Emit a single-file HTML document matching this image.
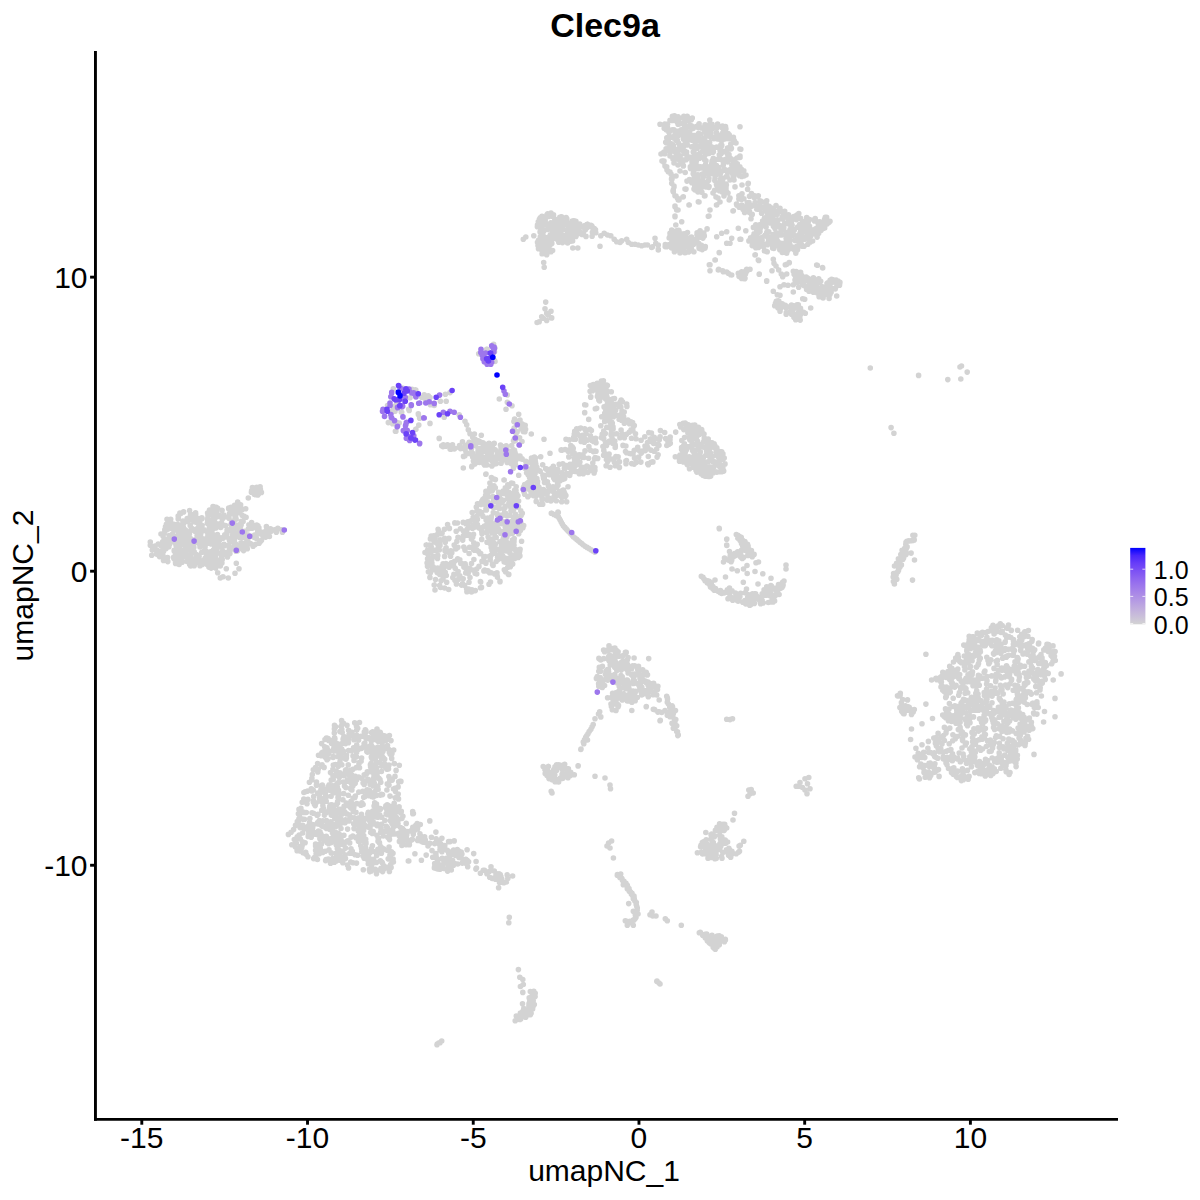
<!DOCTYPE html>
<html><head><meta charset="utf-8"><style>html,body{margin:0;padding:0;background:#fff}svg{display:block}</style></head>
<body><svg width="1200" height="1200" viewBox="0 0 1200 1200" font-family="Liberation Sans, Arial, sans-serif">
<rect width="1200" height="1200" fill="#fff"/>
<g fill="none" stroke-width="5.6" stroke-linecap="round">
<path d="M587.4 224.2h0M558.9 219.2h0M543.6 230.6h0M570.4 226.9h0M547.0 214.7h0M550.4 234.9h0M586.0 236.4h0M547.4 238.0h0M545.2 220.9h0M558.8 242.2h0M583.4 232.8h0M539.7 239.7h0M556.2 239.0h0M548.4 246.5h0M540.8 217.8h0M546.1 223.7h0M569.4 234.7h0M566.8 218.8h0M541.8 234.0h0M595.5 229.8h0M551.0 251.7h0M537.5 225.7h0M560.5 218.5h0M551.4 229.6h0M579.1 225.4h0M540.1 231.9h0M548.0 239.5h0M548.5 216.4h0M591.7 225.7h0M554.1 235.6h0M562.5 227.3h0M568.1 237.3h0M538.0 245.4h0M578.7 229.1h0M563.9 222.6h0M581.9 232.8h0M560.6 218.6h0M540.6 224.3h0M547.7 213.9h0M542.9 234.4h0M585.3 226.2h0M542.1 217.1h0M548.7 237.1h0M541.6 235.1h0M570.2 241.2h0M561.5 234.9h0M569.1 237.9h0M543.7 236.9h0M546.7 254.7h0M555.1 220.3h0M541.9 233.7h0M539.5 220.5h0M549.7 245.4h0M546.0 237.9h0M592.1 236.3h0M545.8 244.8h0M548.0 247.3h0M543.5 222.6h0M549.9 227.6h0M571.0 240.9h0M558.8 229.0h0M578.6 230.0h0M542.8 221.8h0M554.8 236.9h0M546.5 244.6h0M571.5 240.2h0M548.4 239.7h0M549.3 236.7h0M551.5 214.4h0M584.9 225.6h0M543.9 239.0h0M555.0 223.6h0M549.0 228.7h0M578.5 229.1h0M569.4 241.3h0M552.5 224.9h0M561.6 228.6h0M541.6 228.5h0M550.2 239.5h0M560.0 224.8h0M575.0 225.0h0M538.3 221.7h0M573.4 231.7h0M557.5 228.6h0M544.4 246.5h0M567.6 233.4h0M590.9 225.2h0M541.9 218.8h0M538.7 243.6h0M539.8 241.3h0M572.6 241.0h0M543.4 230.8h0M575.9 221.2h0M542.0 242.5h0M577.8 233.8h0M544.6 219.4h0M552.6 250.5h0M559.5 237.5h0M557.2 220.1h0M548.1 225.7h0M540.3 217.7h0M565.4 236.2h0M551.8 243.4h0M568.2 227.5h0M560.9 219.6h0M542.1 253.8h0M585.6 229.6h0M552.0 216.3h0M562.5 223.2h0M552.3 227.7h0M555.2 223.9h0M574.2 231.4h0M565.5 237.9h0M557.7 234.1h0M544.1 240.5h0M587.6 224.2h0M573.9 220.7h0M559.8 217.4h0M556.3 232.3h0M561.5 216.8h0M578.7 227.0h0M594.3 228.5h0M595.8 232.7h0M587.3 227.5h0M548.5 214.9h0M561.0 225.4h0M570.7 240.8h0M550.8 222.7h0M547.6 229.4h0M562.1 225.7h0M560.2 223.0h0M561.3 218.8h0M592.5 227.4h0M564.7 235.9h0M568.2 230.6h0M546.2 217.3h0M537.5 225.1h0M561.7 236.0h0M552.3 225.3h0M540.8 247.2h0M552.6 225.2h0M584.8 226.5h0M579.1 226.1h0M542.2 250.8h0M562.5 242.6h0M551.0 226.8h0M537.4 226.8h0M578.5 230.8h0M544.8 237.8h0M537.5 242.2h0M548.4 251.3h0M555.7 226.2h0M572.3 221.0h0M574.2 225.3h0M542.0 216.4h0M543.5 243.8h0M556.4 230.6h0M576.7 226.6h0M559.9 230.3h0M575.9 236.4h0M567.5 236.9h0M552.4 233.1h0M551.0 213.0h0M568.2 236.7h0M541.6 225.2h0M572.6 236.4h0M548.4 243.0h0M544.4 230.0h0M592.4 232.3h0M546.1 252.6h0M558.2 220.7h0M569.7 240.4h0M555.4 222.2h0M542.6 222.1h0M544.2 218.8h0M571.3 230.0h0M539.4 219.4h0M567.6 243.0h0M576.7 229.0h0M556.3 231.6h0M555.0 219.4h0M540.3 236.8h0M541.8 228.8h0M553.5 214.9h0M559.3 230.7h0M572.0 226.4h0M540.1 225.6h0M550.8 222.8h0M578.8 228.7h0M560.0 233.8h0M543.0 245.4h0M541.1 245.9h0M551.3 240.6h0M564.9 222.5h0M548.8 215.9h0M593.2 230.1h0M563.6 224.8h0M551.1 250.9h0M541.5 249.8h0M553.1 222.9h0M544.4 248.5h0M576.0 222.4h0M541.3 222.3h0M569.2 225.3h0M553.9 225.9h0M545.8 250.4h0M583.0 227.1h0M551.4 237.8h0M563.5 240.1h0M566.1 217.6h0M554.8 219.1h0M554.4 224.4h0M543.7 230.9h0M582.1 234.4h0M573.2 225.3h0M579.7 224.0h0M544.1 224.6h0M561.2 228.4h0M539.3 243.0h0M563.2 229.7h0M538.5 248.7h0M538.5 240.4h0M555.4 230.2h0M567.8 222.7h0M523.3 239.2h0M525.8 237.0h0M533.8 235.8h0M600.0 246.2h0M543.7 262.5h0M544.2 267.2h0M572.8 248.0h0M577.8 248.0h0M600.8 235.8h0M604.2 233.3h0M607.5 235.0h0M610.8 235.8h0M614.2 239.2h0M616.7 241.7h0M620.0 242.5h0M621.7 240.8h0M626.7 239.2h0M628.3 242.5h0M631.7 244.2h0M635.0 244.2h0M638.3 245.0h0M641.7 245.8h0M645.0 245.0h0M647.5 245.0h0M651.7 247.5h0M655.0 238.3h0M655.8 243.3h0M658.3 249.2h0M658.3 245.0h0M660.0 124.2h0M664.2 128.3h0M662.5 153.3h0M663.3 161.7h0M666.7 166.7h0M668.3 171.7h0M671.7 178.3h0M673.3 190.0h0M675.0 195.8h0M678.3 200.0h0M683.3 196.7h0M685.8 189.2h0M689.2 205.0h0M675.0 206.7h0M676.7 210.0h0M675.0 216.7h0M675.8 225.0h0M681.7 221.7h0M671.7 230.0h0M670.0 233.3h0M687.5 232.5h0M713.3 158.2h0M715.3 168.0h0M729.0 154.5h0M708.8 187.5h0M682.5 130.4h0M722.9 178.9h0M684.5 159.8h0M708.1 125.0h0M704.5 159.1h0M725.9 128.9h0M707.2 127.5h0M683.5 146.4h0M681.5 134.7h0M686.5 154.4h0M674.4 116.6h0M698.3 168.7h0M706.3 173.8h0M711.7 163.8h0M711.2 149.8h0M712.0 128.8h0M719.9 146.6h0M717.5 134.7h0M726.0 176.7h0M729.4 147.6h0M726.3 191.1h0M687.0 181.1h0M714.6 190.2h0M704.6 159.7h0M678.6 143.2h0M672.2 145.7h0M702.9 142.5h0M691.3 119.8h0M690.2 125.2h0M708.9 147.3h0M671.3 143.9h0M729.2 158.1h0M668.6 148.9h0M716.1 147.2h0M734.9 166.9h0M713.1 174.0h0M724.5 159.8h0M693.2 182.5h0M686.0 130.6h0M699.0 158.2h0M696.1 158.5h0M692.0 161.7h0M672.3 129.8h0M678.9 159.6h0M685.4 142.7h0M676.1 131.0h0M727.5 149.7h0M686.5 143.3h0M687.4 135.2h0M668.3 140.6h0M730.8 144.1h0M674.2 136.4h0M697.3 154.9h0M676.8 156.4h0M736.0 172.6h0M709.2 173.6h0M666.5 143.0h0M687.1 144.9h0M699.5 158.2h0M675.5 136.3h0M691.8 182.7h0M678.6 148.9h0M694.0 155.7h0M678.1 116.9h0M710.6 150.5h0M685.2 172.5h0M703.6 141.1h0M677.1 121.9h0M720.1 158.9h0M693.8 171.5h0M705.8 187.0h0M682.7 150.5h0M702.3 142.9h0M708.9 178.4h0M721.6 135.8h0M698.5 133.5h0M705.6 130.3h0M666.8 137.9h0M688.2 138.8h0M741.7 176.4h0M698.3 140.7h0M679.4 133.5h0M727.7 162.0h0M665.7 142.3h0M670.0 120.3h0M724.5 169.3h0M722.4 181.8h0M684.7 151.0h0M707.5 146.0h0M700.1 153.0h0M669.0 132.4h0M731.4 148.3h0M710.1 129.8h0M701.5 181.0h0M687.0 158.8h0M664.8 124.1h0M687.1 156.1h0M680.4 123.5h0M668.9 143.4h0M687.2 116.3h0M722.4 128.0h0M709.8 120.1h0M700.5 180.8h0M675.8 151.6h0M695.6 140.5h0M676.1 140.4h0M733.7 160.7h0M734.1 160.4h0M719.3 159.1h0M677.9 153.7h0M689.7 132.0h0M707.5 135.9h0M691.5 137.6h0M729.1 156.2h0M702.2 174.1h0M738.2 172.5h0M733.7 163.4h0M707.9 181.2h0M698.7 183.0h0M724.1 129.2h0M719.9 137.0h0M667.6 124.0h0M680.1 158.1h0M698.1 127.1h0M720.9 138.2h0M699.3 139.5h0M717.4 139.0h0M739.8 166.7h0M694.5 180.9h0M724.9 139.0h0M696.8 185.0h0M681.7 164.0h0M684.3 153.4h0M706.4 145.6h0M670.0 136.6h0M737.3 163.7h0M700.7 146.3h0M711.0 167.9h0M720.1 138.6h0M672.4 116.2h0M692.1 140.3h0M709.6 142.4h0M694.6 148.2h0M725.0 170.1h0M717.5 167.7h0M728.6 136.3h0M734.2 140.5h0M686.1 159.8h0M713.4 151.7h0M733.0 175.6h0M705.8 186.3h0M694.7 145.3h0M720.3 139.6h0M730.8 169.3h0M699.3 157.0h0M668.2 149.5h0M697.9 146.2h0M727.1 176.5h0M664.8 153.7h0M676.6 159.0h0M694.7 186.1h0M665.5 151.6h0M684.7 122.1h0M734.2 166.9h0M690.3 157.2h0M728.5 137.6h0M734.5 160.7h0M698.0 177.8h0M705.2 170.0h0M715.0 137.0h0M724.0 161.0h0M699.1 123.9h0M673.9 129.7h0M721.4 140.3h0M697.9 174.7h0M685.1 137.2h0M733.0 174.7h0M744.4 175.6h0M725.4 137.2h0M721.7 190.8h0M709.8 172.6h0M674.6 151.6h0M706.1 173.6h0M705.2 132.6h0M719.5 172.4h0M703.9 137.8h0M679.8 145.4h0M717.6 124.1h0M672.4 120.4h0M669.5 136.3h0M728.1 133.6h0M725.5 126.6h0M715.4 169.0h0M715.9 127.5h0M700.4 134.0h0M687.8 140.6h0M694.2 177.9h0M703.1 150.6h0M743.8 170.7h0M703.9 145.9h0M703.8 151.5h0M732.3 173.1h0M714.8 170.9h0M731.0 149.0h0M709.9 133.0h0M708.6 167.0h0M709.1 129.2h0M683.8 116.3h0M696.4 161.0h0M690.5 168.6h0M693.2 152.0h0M677.0 157.2h0M678.3 131.3h0M697.2 165.9h0M704.8 131.9h0M709.8 171.3h0M677.9 123.0h0M709.0 153.5h0M704.5 139.1h0M719.4 190.7h0M703.3 183.6h0M673.9 137.9h0M727.5 148.0h0M709.1 186.6h0M678.0 118.5h0M704.0 148.5h0M702.9 181.3h0M701.1 188.3h0M698.5 138.2h0M701.6 167.9h0M692.3 118.0h0M721.1 186.5h0M683.5 117.7h0M711.3 170.5h0M706.4 147.2h0M667.7 150.8h0M710.8 133.4h0M726.1 134.3h0M720.1 150.5h0M687.5 120.7h0M700.7 146.7h0M685.0 133.9h0M702.4 186.1h0M729.7 138.5h0M711.9 165.3h0M723.3 164.9h0M664.6 124.9h0M729.2 134.8h0M710.7 136.9h0M680.2 155.8h0M704.2 140.8h0M713.0 171.2h0M736.3 168.1h0M673.9 157.7h0M691.4 125.8h0M695.2 157.0h0M717.5 186.3h0M691.7 166.7h0M694.2 150.3h0M720.2 174.6h0M689.9 139.3h0M685.8 131.9h0M697.4 140.6h0M695.6 156.6h0M715.3 175.5h0M698.2 127.6h0M725.1 185.4h0M738.4 172.9h0M670.2 137.3h0M684.2 145.1h0M683.4 165.9h0M724.5 151.6h0M725.1 133.4h0M722.5 126.0h0M715.0 178.5h0M707.4 150.3h0M719.8 136.7h0M701.0 184.9h0M667.5 127.5h0M678.9 157.7h0M686.6 152.0h0M717.6 159.3h0M721.2 146.8h0M689.1 126.4h0M670.2 151.9h0M691.3 180.9h0M719.5 173.3h0M726.4 185.1h0M700.6 166.7h0M711.2 149.6h0M705.9 141.7h0M723.9 186.6h0M704.3 144.4h0M704.3 174.2h0M717.8 171.3h0M716.6 184.9h0M718.5 182.9h0M671.9 150.8h0M722.9 191.6h0M666.4 130.0h0M680.3 134.1h0M716.7 147.1h0M741.2 169.0h0M720.9 188.2h0M696.7 166.9h0M723.4 188.0h0M677.2 154.1h0M674.5 115.8h0M694.1 165.7h0M716.4 184.1h0M684.1 135.9h0M712.0 124.3h0M733.4 137.2h0M718.8 167.5h0M694.6 159.1h0M706.8 182.9h0M678.1 124.2h0M675.9 120.4h0M704.6 129.7h0M698.9 168.3h0M695.1 159.8h0M708.9 131.0h0M675.0 149.3h0M722.1 140.3h0M682.7 162.6h0M723.3 136.4h0M706.0 160.9h0M721.8 145.3h0M709.1 126.6h0M677.3 140.6h0M728.4 138.6h0M733.6 142.1h0M733.1 171.2h0M703.5 176.8h0M728.5 170.4h0M714.8 180.5h0M691.6 146.7h0M713.9 138.6h0M717.2 186.3h0M698.8 186.9h0M727.0 134.7h0M712.0 161.2h0M687.3 144.8h0M681.2 129.8h0M703.9 166.6h0M721.7 151.5h0M674.3 158.1h0M695.2 168.1h0M690.3 166.9h0M696.2 126.6h0M666.1 148.7h0M689.4 179.6h0M712.6 160.3h0M714.2 160.9h0M727.0 158.5h0M706.9 135.3h0M679.5 124.0h0M694.9 135.5h0M727.5 172.2h0M679.9 118.3h0M727.8 172.5h0M673.3 145.6h0M731.9 165.6h0M716.5 165.6h0M702.3 128.1h0M709.5 152.3h0M693.2 173.8h0M709.5 142.3h0M716.4 132.4h0M720.4 189.9h0M677.9 132.8h0M701.3 127.9h0M689.4 134.3h0M671.1 130.2h0M683.3 139.1h0M708.7 180.2h0M703.6 143.4h0M693.1 128.5h0M668.7 139.0h0M701.9 142.3h0M684.6 124.4h0M684.6 138.7h0M703.8 128.8h0M705.7 154.3h0M739.6 175.7h0M707.2 133.5h0M722.8 132.8h0M677.7 136.2h0M721.0 144.8h0M708.7 144.4h0M711.5 146.9h0M720.6 179.1h0M705.0 124.8h0M701.9 192.3h0M723.1 161.3h0M693.6 135.5h0M697.1 148.2h0M684.3 127.7h0M700.9 140.8h0M734.0 175.9h0M716.9 189.6h0M720.1 135.0h0M692.1 164.0h0M727.5 154.1h0M706.6 146.9h0M720.1 146.9h0M731.1 158.9h0M711.8 164.0h0M703.7 157.2h0M686.8 131.9h0M698.4 126.4h0M717.3 127.6h0M685.7 129.6h0M719.3 154.8h0M675.0 134.7h0M708.5 133.9h0M704.6 151.6h0M712.9 152.3h0M730.0 158.7h0M701.1 141.4h0M705.8 170.7h0M735.4 164.9h0M734.9 173.2h0M703.4 183.2h0M719.7 183.2h0M716.9 173.2h0M705.6 164.6h0M716.1 174.8h0M721.2 153.6h0M700.6 183.9h0M721.5 171.5h0M721.3 184.0h0M724.3 191.4h0M694.2 175.7h0M662.0 161.0h0M665.0 166.0h0M669.0 172.0h0M672.0 179.0h0M674.0 187.0h0M673.0 191.0h0M676.0 196.0h0M679.0 199.0h0M683.0 197.0h0M675.0 206.0h0M678.0 210.0h0M675.0 216.0h0M686.0 189.0h0M689.0 205.0h0M699.0 202.0h0M694.0 189.0h0M698.0 192.0h0M710.0 210.0h0M709.0 216.0h0M733.0 211.0h0M713.0 193.0h0M719.0 190.0h0M735.0 187.0h0M740.0 149.0h0M740.0 157.0h0M736.0 143.0h0M664.0 161.0h0M667.0 170.0h0M671.0 174.0h0M700.3 248.7h0M688.2 240.3h0M678.7 230.3h0M680.6 237.7h0M701.4 245.3h0M681.1 236.2h0M670.6 244.8h0M690.1 247.3h0M676.7 245.2h0M699.0 246.8h0M665.2 246.6h0M684.3 233.8h0M684.0 250.4h0M689.4 251.2h0M676.6 243.2h0M693.7 244.2h0M679.6 242.4h0M671.5 243.1h0M673.7 232.1h0M702.9 238.1h0M700.1 230.8h0M690.2 241.8h0M693.9 251.7h0M704.3 235.9h0M691.6 237.3h0M697.0 234.6h0M680.8 245.6h0M690.3 246.1h0M669.2 238.0h0M685.2 237.9h0M666.6 246.7h0M697.1 232.8h0M689.2 251.2h0M678.7 232.0h0M705.3 247.1h0M672.2 239.7h0M705.0 248.1h0M686.1 236.6h0M707.1 228.9h0M679.0 231.0h0M676.9 238.7h0M699.1 248.3h0M701.0 237.2h0M701.3 233.9h0M677.6 238.8h0M703.6 247.4h0M684.4 244.6h0M685.0 237.3h0M670.7 237.3h0M682.5 234.1h0M696.7 240.8h0M680.0 253.0h0M683.5 237.5h0M674.0 249.4h0M676.6 238.5h0M691.5 248.7h0M686.6 246.4h0M665.3 244.5h0M688.5 251.9h0M668.5 244.9h0M705.3 246.6h0M677.1 232.5h0M675.9 246.0h0M684.2 242.6h0M678.6 250.3h0M685.0 252.7h0M702.8 234.7h0M681.9 237.9h0M699.3 247.0h0M702.2 249.6h0M682.7 236.1h0M681.7 241.6h0M686.7 243.0h0M690.9 243.4h0M696.0 239.3h0M670.0 236.1h0M676.6 230.9h0M676.5 234.6h0M687.3 237.9h0M691.5 237.0h0M692.2 242.1h0M681.6 248.1h0M675.7 236.5h0M703.4 247.7h0M673.0 235.6h0M699.1 244.7h0M680.9 235.5h0M691.0 242.2h0M698.6 243.3h0M674.7 239.0h0M703.8 233.1h0M691.9 243.3h0M684.8 240.7h0M674.4 251.8h0M681.9 249.6h0M673.4 237.5h0M671.7 234.7h0M701.6 234.7h0M672.8 240.6h0M670.7 236.6h0M671.4 247.7h0M782.7 218.9h0M821.9 226.3h0M784.5 245.7h0M791.8 248.4h0M797.3 235.9h0M791.5 246.8h0M759.8 245.6h0M738.9 198.9h0M756.8 240.1h0M784.3 246.6h0M787.8 223.6h0M789.5 234.0h0M778.2 220.0h0M776.6 224.9h0M774.1 226.0h0M777.5 226.3h0M769.9 212.3h0M748.7 204.1h0M753.5 243.0h0M795.2 240.4h0M797.6 227.1h0M785.6 234.6h0M782.8 247.8h0M751.0 218.8h0M786.9 246.5h0M766.9 243.7h0M750.9 206.4h0M766.1 227.1h0M777.1 245.6h0M798.5 245.6h0M817.3 221.7h0M761.7 206.8h0M786.1 248.8h0M762.1 240.3h0M760.0 201.1h0M765.4 221.5h0M736.5 204.1h0M811.0 229.6h0M757.4 196.8h0M799.7 224.6h0M768.4 241.8h0M787.7 250.5h0M768.3 215.8h0M808.9 239.9h0M798.5 227.1h0M750.2 205.9h0M752.2 245.6h0M784.5 213.3h0M774.6 234.2h0M745.1 207.2h0M791.6 234.6h0M767.5 236.8h0M755.0 241.6h0M794.3 230.1h0M802.2 237.6h0M761.6 213.2h0M755.8 224.8h0M756.5 233.7h0M798.9 234.7h0M807.9 224.6h0M755.6 246.0h0M768.8 231.9h0M796.9 215.0h0M801.4 235.6h0M803.2 229.1h0M767.6 220.3h0M762.3 237.2h0M759.8 243.4h0M764.4 250.9h0M788.4 218.9h0M789.7 235.0h0M824.6 219.3h0M760.6 227.8h0M780.0 209.9h0M767.5 216.4h0M766.8 232.3h0M768.2 218.8h0M809.5 226.3h0M751.5 193.6h0M756.8 233.8h0M788.0 218.3h0M810.3 241.9h0M781.3 234.9h0M739.2 207.2h0M771.8 216.8h0M755.8 247.7h0M741.7 205.0h0M788.2 246.2h0M808.6 220.8h0M782.2 217.2h0M814.6 220.9h0M816.3 232.0h0M807.2 236.9h0M815.6 234.1h0M808.1 228.2h0M771.9 243.7h0M815.2 218.6h0M792.3 235.3h0M774.5 239.1h0M778.3 212.1h0M770.3 239.8h0M781.0 229.2h0M755.1 206.1h0M780.2 227.2h0M776.3 239.8h0M764.4 218.1h0M817.1 237.1h0M820.9 229.9h0M784.9 246.3h0M800.2 227.7h0M776.0 241.3h0M743.1 209.5h0M758.9 230.6h0M784.6 223.9h0M818.3 225.1h0M790.3 236.2h0M757.7 237.2h0M824.7 228.0h0M765.6 224.7h0M768.4 208.4h0M795.1 218.7h0M803.9 229.9h0M765.9 220.0h0M774.0 237.8h0M771.0 207.9h0M807.0 219.9h0M749.6 211.9h0M788.1 235.2h0M749.2 212.3h0M754.6 195.8h0M827.1 224.0h0M767.2 251.8h0M810.8 236.1h0M791.4 223.4h0M768.3 212.2h0M770.4 237.5h0M804.0 246.3h0M768.6 241.4h0M785.4 242.8h0M796.7 249.6h0M764.9 224.0h0M794.8 240.2h0M767.9 213.8h0M788.5 214.8h0M801.1 243.9h0M773.3 212.8h0M796.5 219.6h0M783.4 229.8h0M791.0 232.0h0M759.3 238.3h0M750.6 237.9h0M828.9 222.5h0M780.9 249.5h0M754.1 233.8h0M765.0 235.4h0M786.1 234.4h0M783.7 243.2h0M792.1 225.2h0M796.7 246.4h0M786.3 242.5h0M769.7 214.2h0M797.5 249.5h0M762.5 207.3h0M780.8 243.3h0M820.4 229.2h0M801.8 246.1h0M812.6 241.0h0M830.0 221.2h0M810.0 234.3h0M777.2 223.1h0M767.4 244.7h0M776.8 237.2h0M782.3 252.5h0M776.2 211.3h0M765.7 220.0h0M742.9 206.8h0M766.7 211.8h0M760.6 201.0h0M755.8 196.9h0M804.5 224.5h0M751.5 214.4h0M773.0 218.8h0M807.8 244.2h0M814.1 219.8h0M826.5 221.2h0M782.6 218.2h0M779.5 225.2h0M774.3 243.4h0M784.9 223.1h0M777.7 241.4h0M788.7 239.1h0M803.4 231.5h0M777.2 214.2h0M779.7 208.5h0M741.6 199.3h0M790.8 225.4h0M819.8 221.9h0M782.9 216.1h0M782.1 218.1h0M767.6 215.3h0M751.3 205.2h0M793.1 233.6h0M800.6 218.4h0M779.8 249.7h0M761.2 245.2h0M801.5 233.2h0M769.1 206.3h0M801.8 224.5h0M742.0 193.8h0M781.3 248.0h0M757.9 239.3h0M791.8 246.9h0M795.6 240.1h0M790.0 239.9h0M802.6 221.7h0M818.7 233.3h0M759.6 224.8h0M821.1 230.3h0M757.3 209.1h0M806.7 217.5h0M758.3 231.0h0M749.0 202.5h0M758.9 232.2h0M785.6 242.6h0M769.4 238.7h0M772.6 247.9h0M808.1 222.4h0M767.7 237.3h0M819.4 230.4h0M776.5 214.3h0M765.0 210.8h0M786.5 248.4h0M766.0 203.5h0M809.1 237.1h0M825.3 217.4h0M819.0 225.3h0M748.9 240.9h0M787.3 243.2h0M741.6 196.4h0M805.5 221.1h0M759.1 229.4h0M756.7 230.2h0M801.5 232.1h0M776.0 242.4h0M762.6 244.0h0M765.6 225.8h0M777.3 219.7h0M770.0 222.6h0M766.9 206.7h0M786.8 247.8h0M775.3 227.5h0M788.3 223.4h0M763.3 246.6h0M806.9 230.6h0M773.8 248.5h0M754.0 243.7h0M756.7 208.9h0M807.2 225.1h0M796.2 239.6h0M744.6 212.4h0M774.1 220.5h0M807.2 227.6h0M786.5 245.6h0M817.5 230.7h0M763.2 244.1h0M771.0 239.9h0M782.2 249.4h0M821.1 225.5h0M773.1 208.7h0M761.7 201.7h0M773.5 247.4h0M804.0 222.7h0M749.5 196.3h0M782.2 228.3h0M815.6 228.8h0M766.8 220.8h0M823.5 228.3h0M793.3 229.5h0M775.5 234.1h0M786.1 238.2h0M821.2 229.9h0M766.3 251.2h0M755.7 234.4h0M755.9 225.4h0M824.2 223.4h0M781.2 228.6h0M787.7 238.3h0M753.1 236.3h0M739.9 197.3h0M798.0 227.0h0M747.3 205.1h0M774.5 238.6h0M805.5 221.6h0M766.9 216.3h0M781.5 211.4h0M776.0 205.5h0M759.4 246.6h0M757.0 196.8h0M754.2 197.6h0M772.5 245.6h0M764.4 208.3h0M759.6 209.1h0M809.6 219.6h0M778.1 233.5h0M758.9 205.8h0M753.5 239.5h0M788.1 232.1h0M773.1 234.6h0M800.4 231.7h0M797.6 240.4h0M786.2 252.4h0M798.8 213.6h0M797.5 218.1h0M752.2 214.4h0M781.8 245.5h0M761.2 225.9h0M801.0 240.9h0M815.3 231.5h0M758.4 247.4h0M771.5 215.8h0M784.7 211.4h0M757.1 246.9h0M775.0 228.4h0M772.9 246.5h0M789.7 243.8h0M787.6 235.9h0M760.4 239.5h0M801.9 236.8h0M791.4 217.9h0M791.1 217.3h0M788.3 216.4h0M758.2 208.6h0M755.1 202.5h0M781.7 227.3h0M797.5 249.8h0M773.4 226.3h0M747.3 202.9h0M808.5 234.8h0M749.3 211.2h0M773.2 222.8h0M809.4 231.5h0M776.3 233.1h0M747.9 206.5h0M752.0 241.8h0M753.4 227.4h0M826.6 217.4h0M790.1 229.4h0M748.0 207.4h0M792.1 220.2h0M736.8 205.1h0M743.9 198.8h0M790.9 217.3h0M805.4 226.7h0M762.6 221.0h0M760.0 231.4h0M806.8 235.7h0M814.3 233.8h0M793.8 216.6h0M789.6 220.3h0M770.4 222.9h0M747.6 189.3h0M794.6 249.9h0M804.4 239.2h0M783.8 227.8h0M738.9 195.8h0M671.7 183.3h0M673.3 191.7h0M677.5 198.3h0M683.3 196.7h0M675.0 206.7h0M677.5 210.0h0M675.0 216.7h0M681.7 221.7h0M689.2 205.0h0M698.3 201.7h0M685.8 189.2h0M695.0 190.0h0M700.0 191.7h0M705.0 195.8h0M710.0 210.0h0M708.3 216.3h0M716.7 205.0h0M729.2 200.0h0M733.3 210.8h0M735.0 186.7h0M655.0 238.3h0M652.5 246.7h0M658.3 250.0h0M716.7 236.7h0M721.7 233.3h0M726.7 231.7h0M731.7 238.3h0M726.7 243.3h0M730.0 243.3h0M719.2 252.5h0M715.0 260.0h0M710.0 264.7h0M710.0 270.8h0M718.3 270.0h0M723.3 271.7h0M728.3 273.3h0M731.7 275.0h0M738.3 273.3h0M741.7 271.7h0M745.8 270.8h0M750.0 269.2h0M740.0 276.7h0M745.0 278.3h0M759.2 274.2h0M766.7 280.8h0M738.3 228.3h0M740.8 239.2h0M745.8 230.8h0M816.7 265.0h0M822.5 267.5h0M786.7 264.2h0M789.2 262.5h0M740.0 126.7h0M740.8 149.2h0M740.0 157.5h0M748.3 183.3h0M758.3 195.8h0M766.7 200.8h0M780.0 208.3h0M795.8 253.3h0M786.7 253.3h0M755.0 255.0h0M758.3 260.0h0M806.2 277.1h0M832.9 288.5h0M807.5 278.1h0M826.9 291.1h0M819.8 292.2h0M827.0 283.6h0M829.8 285.2h0M796.8 274.4h0M804.0 285.6h0M823.1 298.0h0M820.7 281.3h0M825.7 290.2h0M825.0 289.5h0M796.2 271.6h0M812.7 286.0h0M829.1 298.5h0M816.8 283.1h0M839.9 282.4h0M822.8 287.0h0M824.3 289.1h0M824.8 287.5h0M811.1 282.4h0M798.6 276.0h0M819.8 282.6h0M806.6 280.3h0M794.1 274.3h0M803.8 278.8h0M797.2 282.4h0M793.9 271.9h0M795.4 279.1h0M819.0 295.8h0M799.1 277.3h0M798.3 279.7h0M816.0 287.1h0M809.0 291.2h0M810.2 279.7h0M795.6 276.3h0M817.0 291.3h0M798.7 275.2h0M808.5 285.3h0M827.0 289.9h0M818.6 293.2h0M798.9 275.3h0M827.5 289.3h0M806.9 288.8h0M814.2 290.2h0M817.2 283.7h0M800.5 275.2h0M818.8 282.6h0M817.5 292.6h0M799.3 278.2h0M831.6 279.4h0M817.1 287.5h0M822.1 292.3h0M827.8 282.8h0M817.4 293.1h0M804.0 281.2h0M834.0 280.0h0M822.4 286.9h0M796.4 276.7h0M799.6 278.8h0M801.7 275.6h0M821.8 296.3h0M802.1 283.1h0M813.2 288.9h0M816.2 288.1h0M825.7 289.7h0M820.8 288.9h0M829.6 288.5h0M808.7 281.0h0M819.1 296.7h0M835.3 281.9h0M800.6 272.2h0M797.9 276.8h0M834.8 280.5h0M830.4 290.8h0M812.5 279.1h0M806.6 289.5h0M828.2 282.7h0M836.1 280.0h0M830.2 281.8h0M818.7 278.9h0M834.6 281.2h0M831.7 279.7h0M813.1 282.7h0M829.9 294.4h0M799.9 281.3h0M830.1 280.4h0M838.1 281.1h0M832.1 282.2h0M839.5 285.3h0M815.7 284.8h0M836.9 285.7h0M811.8 279.0h0M816.8 288.3h0M795.3 281.2h0M808.1 289.3h0M820.4 295.2h0M819.4 295.2h0M799.8 281.0h0M817.0 283.0h0M814.2 281.0h0M813.4 292.3h0M799.6 278.5h0M839.6 284.3h0M821.2 294.7h0M835.2 289.0h0M824.0 290.7h0M815.5 282.3h0M831.1 292.2h0M813.4 277.8h0M824.1 291.1h0M795.0 280.1h0M830.1 282.9h0M811.9 279.2h0M826.7 294.5h0M812.2 281.0h0M782.1 304.5h0M797.1 304.7h0M792.9 312.7h0M778.2 300.8h0M779.9 305.4h0M798.2 315.0h0M796.5 316.7h0M777.9 307.7h0M799.1 310.3h0M800.2 320.1h0M797.5 319.2h0M786.0 307.8h0M798.5 315.2h0M798.6 312.5h0M799.6 312.7h0M791.5 305.1h0M780.3 303.5h0M782.2 303.7h0M796.5 318.9h0M800.5 308.4h0M803.6 312.2h0M791.1 310.2h0M794.8 305.8h0M784.7 306.6h0M780.3 309.2h0M789.1 306.7h0M778.6 303.0h0M791.7 310.5h0M799.7 317.7h0M786.3 312.6h0M787.0 306.7h0M774.7 305.8h0M785.5 307.2h0M799.8 317.0h0M800.5 314.6h0M778.8 301.0h0M780.9 307.7h0M794.8 308.1h0M795.7 319.8h0M780.3 307.8h0M786.2 314.2h0M797.5 315.5h0M779.3 307.4h0M800.5 314.4h0M797.8 313.8h0M785.3 305.2h0M793.2 309.0h0M793.9 317.2h0M776.3 301.3h0M791.9 312.0h0M791.7 314.5h0M796.3 305.2h0M790.4 312.1h0M792.6 305.5h0M775.5 303.2h0M798.3 304.9h0M777.1 304.5h0M739.0 276.2h0M743.2 274.1h0M741.7 278.4h0M744.9 274.5h0M744.7 278.8h0M744.0 272.6h0M746.7 269.4h0M745.5 274.0h0M746.8 271.2h0M836.7 296.0h0M773.3 291.3h0M777.3 294.7h0M780.0 295.3h0M802.7 298.7h0M804.7 299.3h0M810.7 308.0h0M793.3 292.0h0M780.0 286.7h0M784.0 284.7h0M788.0 285.3h0M793.3 284.7h0M798.7 287.3h0M773.3 259.3h0M774.0 263.3h0M776.0 266.0h0M778.7 270.0h0M781.3 274.0h0M782.7 276.7h0M786.7 274.0h0M793.3 271.3h0M785.3 264.7h0M789.3 262.7h0M817.3 265.3h0M822.7 268.0h0M772.0 270.7h0M766.7 281.3h0M759.3 274.0h0M709.3 264.7h0M710.0 270.7h0M715.3 260.0h0M719.3 252.7h0M718.7 269.3h0M722.7 270.7h0M726.7 272.0h0M730.7 274.7h0M740.0 239.3h0M755.3 254.7h0M758.7 260.4h0M780.0 311.3h0M805.3 313.3h0M661.0 154.0h0M664.0 152.0h0M670.0 156.0h0M673.0 159.0h0M676.0 156.0h0M663.0 161.0h0M666.0 167.0h0M670.0 172.0h0M671.5 179.0h0M676.0 176.0h0M680.0 171.0h0M674.0 163.0h0M678.0 165.0h0M680.0 160.0h0M674.0 186.0h0M673.0 191.0h0M676.0 196.0h0M679.0 200.0h0M683.0 197.0h0M685.0 189.0h0M694.0 189.0h0M698.0 192.0h0M704.5 196.0h0M713.0 193.0h0M719.0 190.0h0M722.0 192.0h0M726.0 188.0h0M728.0 193.0h0M730.0 198.0h0M716.0 197.0h0M720.0 202.0h0M716.5 205.0h0M718.0 198.0h0M724.0 196.0h0M726.0 184.0h0M730.0 180.0h0M734.0 180.0h0M735.0 187.0h0M742.0 185.0h0M748.0 184.0h0M740.0 168.0h0M744.0 176.0h0M736.0 166.0h0M740.0 156.0h0M737.0 158.0h0M733.0 161.0h0M736.0 170.0h0M740.0 171.0h0M746.0 175.0h0M545.7 302.1h0M545.0 308.8h0M551.0 311.2h0M546.7 313.3h0M541.7 316.7h0M551.7 317.9h0M546.7 320.4h0M537.1 322.5h0M539.2 321.7h0M543.3 318.3h0M548.3 315.0h0M412.5 389.7h0M415.8 390.1h0M424.2 394.7h0M428.3 395.9h0M430.0 397.6h0M421.7 397.2h0M425.0 398.8h0M445.4 394.2h0M446.2 401.3h0M440.4 401.3h0M430.4 404.7h0M434.2 405.5h0M409.2 410.1h0M418.3 413.8h0M419.6 418.0h0M430.0 423.4h0M418.8 425.1h0M415.8 429.2h0M388.3 422.6h0M395.4 431.3h0M401.7 412.2h0M395.0 411.3h0M399.2 423.0h0M439.2 438.4h0M465.0 421.3h0M466.7 424.7h0M468.3 429.7h0M470.0 433.8h0M459.2 414.7h0M462.5 441.8h0M469.2 442.2h0M443.3 444.7h0M447.5 444.7h0M452.5 444.7h0M444.2 417.2h0M450.0 392.6h0M394.2 406.3h0M396.7 403.0h0M402.5 398.0h0M391.7 411.3h0M387.5 405.5h0M393.3 388.8h0M402.5 388.0h0M493.3 345.0h0M494.7 347.7h0M486.7 349.3h0M478.7 353.7h0M494.7 360.7h0M499.3 399.0h0M507.3 402.3h0M512.0 405.7h0M506.0 409.3h0M507.3 395.0h0M518.7 414.3h0M513.1 449.6h0M489.0 448.9h0M508.0 460.5h0M512.9 449.9h0M460.5 448.6h0M459.0 447.5h0M511.0 458.0h0M476.3 455.8h0M502.3 456.3h0M480.2 457.9h0M489.7 452.8h0M491.3 453.0h0M514.9 462.9h0M465.0 449.4h0M515.5 455.5h0M466.1 446.1h0M510.1 460.1h0M480.2 448.6h0M467.5 453.4h0M515.6 454.3h0M481.1 453.3h0M491.6 460.6h0M514.1 461.3h0M496.3 463.6h0M472.7 457.0h0M505.4 453.0h0M464.8 456.0h0M510.0 454.1h0M506.1 447.3h0M491.9 465.9h0M495.1 461.2h0M489.2 458.9h0M454.4 448.3h0M484.6 464.9h0M478.2 440.7h0M481.0 449.5h0M483.4 449.5h0M479.1 459.2h0M476.4 441.8h0M459.5 445.9h0M485.8 444.5h0M488.9 447.5h0M489.2 453.0h0M450.1 448.9h0M489.0 443.4h0M484.3 464.4h0M472.0 454.9h0M472.5 442.7h0M499.5 451.8h0M495.5 457.6h0M497.4 454.5h0M500.0 459.0h0M443.0 446.6h0M466.1 452.5h0M504.2 448.3h0M502.4 446.8h0M467.4 444.8h0M482.2 448.2h0M511.7 445.5h0M494.2 443.4h0M487.6 449.9h0M488.3 451.5h0M478.7 442.1h0M472.6 453.4h0M459.6 447.6h0M502.7 446.5h0M474.1 445.5h0M509.3 455.0h0M483.6 460.5h0M480.9 442.4h0M462.2 448.2h0M477.6 459.8h0M463.5 456.4h0M485.1 447.0h0M513.8 464.1h0M497.8 455.8h0M514.7 461.8h0M465.1 446.1h0M501.1 463.2h0M489.9 451.9h0M508.2 451.0h0M505.9 451.9h0M478.2 457.8h0M494.1 463.9h0M445.5 446.3h0M487.0 465.0h0M511.4 456.5h0M505.4 456.7h0M487.6 452.2h0M511.1 461.8h0M450.8 449.3h0M459.5 445.6h0M468.9 446.4h0M487.7 453.1h0M506.1 457.3h0M482.3 457.0h0M454.3 449.0h0M483.8 463.7h0M511.3 532.1h0M507.5 558.6h0M519.7 551.2h0M519.9 555.9h0M491.6 546.4h0M498.6 531.5h0M490.0 539.8h0M489.3 529.3h0M501.2 542.3h0M507.0 528.6h0M512.7 533.1h0M505.9 529.3h0M512.4 532.0h0M506.4 527.8h0M488.8 541.0h0M513.9 542.2h0M491.3 531.5h0M503.1 539.1h0M508.1 560.7h0M514.2 528.8h0M518.5 551.6h0M488.1 536.8h0M490.6 528.0h0M495.1 551.3h0M503.5 545.0h0M501.6 548.8h0M506.4 529.3h0M513.6 555.3h0M504.5 557.7h0M511.4 555.8h0M509.9 558.7h0M494.1 533.2h0M510.0 548.9h0M505.9 533.2h0M515.8 549.5h0M501.4 545.6h0M493.0 538.9h0M502.9 547.7h0M503.4 541.6h0M498.2 530.1h0M487.0 542.2h0M488.4 529.1h0M506.1 540.7h0M494.1 543.1h0M513.7 555.7h0M491.8 546.9h0M502.5 533.9h0M508.9 530.1h0M518.2 557.4h0M504.1 531.2h0M509.9 533.8h0M497.3 549.4h0M490.0 542.9h0M500.7 533.3h0M495.0 531.6h0M502.5 555.5h0M509.9 553.1h0M507.2 544.0h0M519.5 554.7h0M491.8 546.5h0M503.7 550.2h0M492.3 540.8h0M520.1 527.6h0M520.4 530.5h0M511.1 525.8h0M492.4 546.3h0M518.7 533.8h0M501.1 551.7h0M513.0 531.0h0M494.8 546.9h0M505.2 535.2h0M510.0 559.7h0M495.4 536.9h0M511.8 543.9h0M518.8 533.5h0M492.8 546.9h0M506.4 533.3h0M496.2 537.5h0M499.9 541.8h0M495.1 531.2h0M489.9 543.3h0M494.4 533.0h0M500.8 553.0h0M515.7 550.5h0M479.0 566.4h0M508.1 532.7h0M428.4 571.7h0M439.8 574.4h0M466.6 588.7h0M489.7 541.3h0M433.0 550.3h0M497.6 557.2h0M482.0 561.4h0M430.7 561.7h0M512.4 540.0h0M490.6 541.3h0M445.0 549.7h0M481.5 587.4h0M481.5 527.9h0M434.2 541.9h0M501.5 558.4h0M465.6 565.9h0M485.9 563.2h0M507.4 563.0h0M508.7 543.4h0M443.1 563.9h0M508.8 563.2h0M505.5 571.8h0M483.9 570.9h0M438.7 542.4h0M482.0 533.7h0M490.2 559.7h0M437.5 558.4h0M487.7 523.3h0M499.4 530.9h0M435.5 579.6h0M468.5 526.2h0M492.3 532.9h0M477.4 524.5h0M493.1 565.5h0M457.4 523.0h0M491.1 539.5h0M453.9 574.4h0M487.2 570.9h0M456.9 541.3h0M478.9 528.0h0M486.7 532.6h0M444.5 538.4h0M435.7 550.4h0M504.6 523.7h0M490.9 519.5h0M448.9 538.3h0M459.8 575.8h0M427.5 550.3h0M462.8 537.8h0M440.4 533.8h0M480.7 582.0h0M514.0 545.3h0M430.4 538.9h0M495.3 544.3h0M465.3 531.9h0M510.3 566.8h0M469.1 553.5h0M430.7 551.7h0M511.7 562.7h0M491.4 542.7h0M469.4 568.3h0M472.7 537.3h0M440.0 541.0h0M461.6 563.5h0M441.1 580.8h0M445.9 563.5h0M489.6 572.8h0M504.3 569.7h0M438.2 545.2h0M454.6 561.2h0M510.1 566.6h0M516.2 552.1h0M507.9 562.9h0M457.9 547.2h0M494.0 525.2h0M489.4 556.3h0M465.9 523.7h0M488.9 520.2h0M473.8 542.9h0M439.6 585.5h0M443.7 568.0h0M472.4 528.2h0M438.4 530.6h0M448.7 589.5h0M450.6 556.2h0M442.2 566.1h0M439.3 550.0h0M460.8 563.5h0M448.4 564.7h0M491.1 572.7h0M457.7 558.9h0M474.1 544.5h0M468.2 573.2h0M467.2 524.0h0M510.9 526.4h0M471.5 592.0h0M440.2 539.8h0M467.8 521.8h0M494.8 550.7h0M464.9 548.7h0M454.9 580.2h0M441.8 571.2h0M437.2 572.6h0M460.4 528.7h0M502.4 522.6h0M502.0 543.5h0M508.2 534.1h0M483.9 557.6h0M491.2 547.4h0M469.6 547.3h0M484.7 570.1h0M456.4 583.9h0M490.5 582.0h0M497.4 577.1h0M427.8 554.1h0M512.7 564.1h0M497.1 525.8h0M449.1 567.3h0M493.9 526.4h0M512.4 558.4h0M480.9 529.1h0M463.9 567.1h0M443.0 578.9h0M515.4 530.4h0M506.3 531.6h0M446.1 547.8h0M487.9 570.7h0M473.7 549.7h0M454.8 522.9h0M467.2 529.3h0M436.6 543.1h0M475.3 590.6h0M475.1 573.2h0M432.2 568.3h0M467.8 535.3h0M501.5 542.9h0M444.0 575.7h0M497.9 559.6h0M507.0 537.0h0M446.3 575.5h0M463.2 578.7h0M452.8 577.6h0M446.1 565.1h0M481.8 531.8h0M461.6 585.1h0M491.1 555.2h0M487.2 530.9h0M478.6 551.6h0M514.0 541.0h0M463.3 535.7h0M513.5 548.6h0M507.7 567.5h0M521.6 541.3h0M457.6 559.8h0M453.6 565.8h0M504.2 562.0h0M441.6 570.8h0M492.0 550.5h0M433.1 566.7h0M431.0 552.2h0M437.8 555.4h0M471.9 589.9h0M445.2 572.2h0M470.5 521.1h0M431.2 536.1h0M437.6 568.0h0M462.6 563.7h0M436.8 534.9h0M487.6 518.0h0M462.7 540.1h0M512.4 542.1h0M449.4 528.4h0M444.6 556.4h0M438.1 529.3h0M463.2 522.4h0M465.1 563.8h0M459.8 559.9h0M476.7 574.0h0M433.6 535.7h0M498.6 529.3h0M494.0 553.2h0M476.7 549.9h0M436.1 549.9h0M451.4 562.9h0M463.5 531.0h0M429.2 557.8h0M480.5 587.7h0M490.6 520.2h0M505.6 522.8h0M462.5 583.9h0M449.7 553.2h0M476.7 569.0h0M469.0 582.3h0M465.7 568.3h0M440.8 571.4h0M496.2 525.6h0M498.3 522.2h0M448.7 538.7h0M427.6 558.9h0M497.0 572.7h0M496.2 561.5h0M504.7 532.2h0M455.2 568.3h0M480.4 581.6h0M465.7 573.0h0M429.6 545.1h0M473.5 534.4h0M446.7 582.2h0M495.9 523.0h0M491.1 526.2h0M456.2 531.3h0M432.8 537.1h0M440.6 587.5h0M444.6 588.0h0M458.0 537.4h0M505.2 547.4h0M431.8 559.5h0M458.1 571.6h0M474.5 550.3h0M445.3 542.2h0M514.7 558.4h0M465.0 550.1h0M480.0 553.7h0M447.6 524.6h0M431.6 550.9h0M485.1 556.5h0M485.7 527.1h0M511.8 562.9h0M466.7 569.2h0M433.6 569.8h0M484.9 561.9h0M464.8 535.6h0M429.9 577.4h0M506.2 551.0h0M456.3 574.0h0M434.8 538.3h0M477.2 544.2h0M471.5 563.6h0M440.2 569.8h0M451.8 552.7h0M503.8 539.8h0M520.1 549.3h0M489.0 584.2h0M455.2 546.7h0M492.5 564.4h0M494.7 573.9h0M481.7 539.4h0M497.9 555.6h0M454.2 545.0h0M463.8 547.1h0M497.1 575.5h0M430.4 572.7h0M517.4 554.7h0M474.9 547.8h0M464.6 585.3h0M502.1 521.6h0M514.2 538.5h0M430.0 563.5h0M506.3 562.4h0M466.9 591.8h0M471.4 538.9h0M450.8 550.7h0M502.4 542.5h0M480.7 553.5h0M468.6 589.0h0M444.4 529.2h0M477.4 519.4h0M473.9 559.5h0M442.1 533.1h0M458.2 579.5h0M490.2 557.8h0M477.7 526.6h0M456.0 549.0h0M433.3 556.2h0M427.1 563.1h0M426.2 545.0h0M431.2 546.9h0M425.6 552.5h0M440.0 545.6h0M445.6 551.2h0M465.6 531.2h0M468.8 534.4h0M473.1 548.8h0M508.8 574.4h0M500.0 581.2h0M431.9 563.1h0M427.5 566.2h0M472.5 570.0h0M470.0 577.5h0M551.7 513.3h0M553.9 514.4h0M556.1 515.6h0M558.3 516.7h0M559.3 518.5h0M560.3 520.3h0M561.3 522.2h0M562.3 524.0h0M563.3 525.8h0M564.8 527.4h0M566.2 528.9h0M567.6 530.5h0M569.0 532.0h0M570.5 533.6h0M571.9 535.1h0M573.3 536.7h0M575.0 538.1h0M576.7 539.4h0M578.3 540.8h0M580.0 542.2h0M581.7 543.6h0M583.3 545.0h0M585.2 546.2h0M587.1 547.4h0M589.0 548.6h0M591.0 549.8h0M592.9 551.0h0M594.8 552.1h0M439.2 438.3h0M441.7 445.8h0M463.3 468.0h0M471.7 466.7h0M485.8 474.2h0M504.2 480.0h0M508.3 574.2h0M500.0 581.7h0M425.0 552.5h0M426.7 545.0h0M440.0 545.0h0M445.0 550.8h0M434.2 585.0h0M435.0 590.0h0M558.3 512.5h0M531.7 492.3h0M553.3 466.3h0M527.4 488.0h0M569.5 467.3h0M534.8 478.4h0M566.1 465.5h0M544.9 493.2h0M539.7 504.2h0M569.7 475.5h0M541.9 497.1h0M531.1 490.3h0M525.8 461.3h0M548.1 492.1h0M548.4 485.3h0M569.2 474.4h0M534.9 486.9h0M547.1 500.1h0M531.9 479.8h0M563.9 491.5h0M535.8 464.1h0M582.4 467.2h0M559.8 481.0h0M530.8 469.2h0M534.0 472.2h0M530.3 469.2h0M542.7 504.3h0M546.2 493.6h0M561.8 472.7h0M584.4 469.5h0M557.6 469.4h0M551.5 468.6h0M546.7 492.8h0M565.0 474.7h0M546.9 494.3h0M538.7 488.9h0M553.4 491.8h0M534.9 458.7h0M537.5 484.4h0M524.5 488.7h0M532.1 475.7h0M557.5 484.4h0M531.5 458.0h0M558.2 481.1h0M548.1 471.0h0M566.8 473.5h0M553.8 469.0h0M549.4 474.4h0M579.0 464.5h0M534.4 457.1h0M553.7 478.0h0M543.4 489.5h0M554.6 479.6h0M545.2 492.2h0M557.7 470.1h0M558.8 492.2h0M557.8 471.3h0M539.0 487.3h0M531.1 494.1h0M575.8 471.4h0M562.7 479.5h0M535.5 458.1h0M547.4 481.7h0M533.3 475.2h0M594.9 470.4h0M528.3 475.0h0M534.9 471.9h0M535.7 488.7h0M531.7 481.5h0M523.3 489.0h0M542.5 498.8h0M548.8 498.1h0M533.4 489.6h0M581.5 468.6h0M530.1 470.5h0M549.3 499.5h0M549.1 473.3h0M574.4 471.1h0M533.7 494.0h0M542.0 500.1h0M525.2 468.5h0M539.5 494.6h0M561.3 496.4h0M530.6 490.7h0M544.4 493.8h0M528.2 482.5h0M531.9 479.4h0M565.1 468.3h0M550.9 501.0h0M527.8 496.8h0M544.5 482.4h0M539.7 491.9h0M549.1 471.7h0M565.3 494.8h0M540.2 471.2h0M565.9 495.5h0M558.7 477.0h0M559.2 464.2h0M524.7 484.6h0M550.0 474.8h0M532.9 459.9h0M539.7 470.7h0M549.7 474.7h0M528.8 488.9h0M581.2 471.5h0M523.9 491.8h0M555.0 475.6h0M562.1 492.0h0M542.9 475.0h0M556.8 487.5h0M583.2 473.8h0M570.7 467.9h0M548.5 474.5h0M535.9 496.3h0M537.7 495.0h0M531.9 482.9h0M530.7 475.0h0M532.4 476.0h0M575.1 465.9h0M532.6 485.6h0M543.6 478.6h0M534.2 490.3h0M537.6 481.5h0M554.3 498.2h0M583.7 471.7h0M562.4 490.6h0M559.4 491.8h0M533.1 463.6h0M544.0 475.3h0M536.9 467.2h0M580.9 470.4h0M532.0 480.8h0M553.0 486.7h0M590.1 470.3h0M588.5 467.1h0M579.3 473.8h0M561.3 478.8h0M571.7 467.4h0M593.9 471.6h0M551.5 471.3h0M542.4 490.8h0M530.0 478.2h0M561.6 477.6h0M524.5 485.3h0M556.2 478.7h0M561.8 496.9h0M545.6 491.1h0M573.4 466.9h0M527.5 472.9h0M546.4 468.9h0M531.3 460.4h0M587.9 472.5h0M564.6 493.4h0M542.7 464.7h0M548.5 491.1h0M594.1 472.9h0M553.0 498.3h0M564.4 468.5h0M527.3 486.8h0M534.0 495.8h0M533.7 467.6h0M535.1 473.5h0M547.9 497.6h0M578.4 471.6h0M534.4 478.4h0M553.9 488.0h0M531.1 495.0h0M536.9 478.6h0M534.4 491.3h0M559.6 494.8h0M571.3 464.6h0M543.2 475.8h0M531.6 476.1h0M562.8 479.0h0M535.8 464.3h0M557.0 495.2h0M533.5 480.6h0M524.7 494.3h0M545.7 468.7h0M525.3 486.2h0M574.0 465.5h0M526.9 483.5h0M556.9 472.5h0M534.6 489.9h0M549.3 489.2h0M549.9 471.5h0M584.6 471.4h0M544.4 477.7h0M554.0 496.7h0M525.8 465.3h0M531.3 468.5h0M532.2 464.1h0M570.7 472.5h0M530.9 484.7h0M529.6 477.8h0M586.8 466.1h0M526.6 472.8h0M534.4 495.2h0M533.3 465.9h0M557.9 482.7h0M571.3 465.3h0M570.1 464.4h0M535.4 461.9h0M547.0 494.3h0M564.7 478.6h0M523.5 487.4h0M543.4 477.6h0M548.4 486.0h0M558.0 485.2h0M581.3 468.2h0M533.1 470.6h0M536.2 501.4h0M562.8 463.7h0M557.4 485.0h0M556.3 500.7h0M528.0 462.6h0M556.6 470.9h0M551.9 473.7h0M592.1 468.1h0M569.8 449.6h0M573.7 437.2h0M573.4 439.1h0M574.2 457.9h0M584.1 457.5h0M575.3 434.2h0M587.1 440.3h0M580.5 436.3h0M568.8 456.9h0M585.0 450.9h0M585.5 439.2h0M574.7 431.4h0M579.5 428.7h0M593.3 451.6h0M570.8 445.6h0M569.1 439.9h0M596.0 451.2h0M581.1 441.4h0M592.8 463.1h0M565.2 449.5h0M590.4 450.2h0M588.9 446.5h0M591.4 430.5h0M594.9 467.6h0M577.7 434.3h0M575.9 459.6h0M593.5 441.4h0M588.6 458.3h0M572.2 446.9h0M585.4 430.1h0M572.9 453.6h0M595.4 441.2h0M577.8 455.1h0M582.7 440.3h0M583.0 454.9h0M561.7 450.3h0M574.3 434.0h0M582.6 457.1h0M595.6 438.2h0M594.7 439.1h0M578.3 456.7h0M561.4 449.7h0M584.3 442.3h0M596.0 442.8h0M595.2 457.5h0M581.2 440.2h0M574.1 452.9h0M594.6 458.8h0M584.4 438.0h0M579.6 454.7h0M591.0 437.5h0M568.3 451.5h0M569.9 449.8h0M574.4 462.1h0M591.6 440.2h0M579.9 462.1h0M597.7 458.4h0M590.4 435.8h0M573.2 448.4h0M561.1 450.1h0M594.7 451.0h0M582.6 435.4h0M575.4 439.3h0M589.9 429.3h0M586.1 433.5h0M573.1 439.1h0M500.5 445.1h0M471.6 446.5h0M500.9 455.0h0M491.7 456.5h0M487.8 455.0h0M507.2 462.4h0M487.4 448.1h0M516.0 456.1h0M514.9 452.2h0M485.7 450.4h0M515.5 464.8h0M475.5 445.1h0M491.0 447.6h0M487.6 454.6h0M485.2 451.5h0M472.7 437.2h0M493.6 457.1h0M476.2 460.5h0M486.4 458.5h0M506.9 446.8h0M504.0 459.8h0M486.1 461.2h0M474.2 440.2h0M522.0 459.1h0M475.1 439.2h0M515.1 455.9h0M473.4 461.1h0M501.0 448.1h0M477.8 457.0h0M513.4 468.3h0M504.3 455.9h0M511.4 463.8h0M482.4 451.8h0M520.0 456.0h0M495.2 449.8h0M513.9 456.0h0M475.9 440.3h0M476.9 460.4h0M502.5 460.2h0M504.2 451.4h0M478.4 462.2h0M475.2 458.4h0M506.2 445.8h0M473.8 441.8h0M474.8 463.9h0M478.0 448.3h0M515.7 460.7h0M471.4 448.9h0M510.0 457.7h0M513.1 464.8h0M505.5 450.0h0M483.0 442.7h0M479.3 441.3h0M522.1 458.8h0M492.5 447.9h0M514.5 450.4h0M486.2 457.4h0M488.3 446.3h0M478.0 451.5h0M482.7 443.6h0M474.4 434.0h0M501.5 460.3h0M497.4 454.1h0M479.4 462.5h0M476.9 442.2h0M484.1 445.8h0M482.4 448.6h0M510.3 459.7h0M501.7 448.0h0M491.5 446.3h0M520.5 458.6h0M519.4 457.8h0M521.3 428.7h0M524.9 431.7h0M514.1 441.1h0M518.1 423.7h0M513.5 440.8h0M522.0 441.5h0M521.7 427.4h0M519.4 444.9h0M520.0 420.0h0M515.3 440.2h0M523.7 424.9h0M517.8 422.0h0M514.6 419.1h0M525.6 429.3h0M525.2 425.3h0M514.4 438.8h0M517.2 423.6h0M516.3 421.6h0M513.9 421.6h0M514.2 428.1h0M516.1 433.3h0M519.6 437.8h0M524.3 426.2h0M522.5 427.5h0M523.3 431.4h0M521.8 423.9h0M515.1 438.0h0M513.9 429.6h0M517.1 431.9h0M513.7 518.6h0M507.8 484.8h0M485.4 505.0h0M503.4 493.4h0M485.9 491.4h0M503.6 515.1h0M517.6 506.0h0M473.0 525.9h0M476.9 510.7h0M489.4 520.3h0M505.2 526.9h0M511.1 507.8h0M491.0 518.4h0M475.4 520.1h0M499.4 496.9h0M502.7 492.6h0M472.3 528.1h0M497.0 513.9h0M491.4 477.6h0M513.8 501.8h0M484.4 526.0h0M504.9 521.9h0M479.3 511.2h0M476.3 507.0h0M480.9 504.4h0M503.8 508.9h0M507.0 494.8h0M508.9 492.3h0M501.7 515.3h0M491.0 522.8h0M507.3 515.9h0M477.5 503.8h0M490.4 528.4h0M520.7 522.1h0M490.3 504.5h0M500.5 515.4h0M515.6 514.4h0M521.1 515.5h0M510.1 497.2h0M503.1 491.1h0M517.0 525.0h0M472.2 512.6h0M475.0 520.8h0M518.4 518.5h0M493.5 499.0h0M512.3 523.7h0M505.3 487.9h0M477.1 516.1h0M489.8 487.8h0M485.6 495.3h0M477.1 524.3h0M477.9 503.7h0M511.7 493.8h0M484.0 498.5h0M512.9 496.5h0M491.4 516.9h0M512.0 510.6h0M488.5 496.7h0M523.7 525.6h0M513.4 510.1h0M517.4 520.4h0M510.9 526.1h0M493.3 512.5h0M505.9 493.2h0M493.4 501.2h0M508.8 486.5h0M494.0 485.9h0M504.8 514.8h0M487.7 495.5h0M486.1 520.0h0M504.5 513.1h0M490.1 491.1h0M498.4 503.9h0M495.4 479.6h0M501.1 520.4h0M514.9 496.5h0M493.3 478.8h0M493.4 507.6h0M509.9 515.3h0M498.6 492.4h0M515.7 526.5h0M495.3 487.7h0M483.3 500.8h0M520.8 510.7h0M496.1 528.3h0M503.9 508.7h0M473.8 527.4h0M487.1 491.2h0M486.4 509.9h0M492.3 489.2h0M512.8 523.5h0M495.9 507.1h0M511.2 505.2h0M473.2 517.4h0M510.9 510.8h0M497.6 515.3h0M482.8 499.6h0M518.6 501.0h0M499.0 505.3h0M505.9 522.3h0M492.4 490.2h0M475.3 517.3h0M496.3 499.6h0M522.3 513.3h0M494.8 500.7h0M506.4 487.8h0M517.9 495.8h0M518.4 506.9h0M510.4 503.3h0M495.6 501.1h0M517.0 528.3h0M505.6 513.2h0M522.9 527.7h0M507.5 528.2h0M485.9 509.1h0M508.9 503.4h0M509.4 502.1h0M501.1 523.6h0M489.8 519.5h0M492.7 506.8h0M481.8 512.6h0M511.1 501.2h0M482.9 516.2h0M517.1 507.2h0M516.0 490.6h0M505.1 507.4h0M487.8 502.4h0M499.2 508.4h0M483.7 498.7h0M481.8 501.4h0M501.9 502.4h0M494.1 479.1h0M516.2 486.8h0M492.9 496.5h0M494.0 497.4h0M490.6 490.9h0M509.6 524.2h0M494.1 497.8h0M484.8 499.9h0M480.5 513.1h0M497.3 522.6h0M514.3 500.3h0M511.5 483.1h0M505.2 506.3h0M510.6 506.9h0M520.7 527.1h0M507.8 498.3h0M513.7 517.6h0M500.5 499.0h0M489.9 483.0h0M514.6 490.2h0M512.6 508.8h0M511.8 521.4h0M503.6 500.3h0M492.1 490.7h0M486.8 524.5h0M584.7 404.7h0M584.7 412.7h0M588.7 419.3h0M590.7 397.3h0M595.3 408.7h0M544.0 439.3h0M550.0 453.3h0M540.7 456.7h0M531.3 434.0h0M481.3 435.3h0M472.0 466.0h0M486.0 474.0h0M504.0 480.0h0M516.7 494.0h0M518.7 475.3h0M568.0 486.7h0M558.0 512.0h0M551.3 513.3h0M512.7 483.3h0M576.7 428.7h0M580.7 428.0h0M584.7 428.7h0M566.0 439.3h0M575.3 439.3h0M580.7 436.7h0M624.0 420.7h0M592.4 390.7h0M626.1 421.0h0M606.9 407.2h0M600.8 394.9h0M626.7 404.1h0M598.8 400.1h0M606.7 385.0h0M602.4 390.7h0M622.8 411.6h0M609.2 408.1h0M604.4 392.7h0M605.4 417.7h0M597.8 385.4h0M590.1 391.2h0M607.0 408.1h0M604.7 413.2h0M601.2 385.6h0M622.8 418.8h0M604.9 421.0h0M603.4 380.7h0M629.5 423.8h0M602.4 394.2h0M605.4 385.0h0M615.3 410.5h0M610.1 416.7h0M612.3 413.6h0M633.8 426.2h0M606.7 386.1h0M617.8 415.5h0M613.5 416.8h0M607.4 385.5h0M599.6 401.0h0M634.3 425.6h0M598.0 393.7h0M632.6 422.5h0M609.6 421.5h0M612.5 410.1h0M609.9 408.6h0M599.5 390.5h0M630.9 421.9h0M608.7 404.7h0M615.7 409.9h0M621.5 420.2h0M619.3 406.4h0M620.6 416.0h0M609.1 419.7h0M603.4 385.8h0M627.9 420.0h0M612.8 407.3h0M615.9 404.3h0M597.7 386.3h0M604.1 406.9h0M623.6 416.8h0M608.3 402.5h0M610.9 424.8h0M607.4 385.6h0M621.2 400.1h0M611.9 403.8h0M597.2 383.4h0M613.1 429.1h0M613.0 426.9h0M590.3 385.5h0M624.3 423.3h0M604.6 387.2h0M597.6 396.3h0M602.4 390.6h0M597.0 387.9h0M614.8 414.0h0M603.5 397.1h0M622.5 401.8h0M607.1 390.9h0M619.1 419.2h0M619.5 403.2h0M602.6 393.0h0M593.3 384.5h0M599.1 394.6h0M605.7 399.1h0M611.1 435.0h0M633.4 425.6h0M604.5 396.0h0M606.3 418.2h0M605.7 411.2h0M610.7 403.7h0M609.5 412.7h0M607.8 427.5h0M613.0 398.8h0M611.8 422.4h0M604.7 390.2h0M602.2 394.0h0M606.8 396.5h0M603.4 394.7h0M620.4 401.8h0M591.6 389.9h0M607.1 397.6h0M626.9 406.4h0M607.1 408.2h0M606.4 394.3h0M601.6 384.2h0M606.8 400.0h0M604.7 421.4h0M611.3 404.5h0M610.9 399.6h0M622.0 411.1h0M625.2 421.1h0M611.1 434.2h0M597.9 394.6h0M620.9 407.0h0M598.1 394.7h0M604.7 395.3h0M606.8 427.2h0M612.1 399.3h0M601.4 381.0h0M614.5 398.5h0M606.9 414.4h0M609.7 407.9h0M613.3 415.7h0M605.0 391.7h0M624.2 412.1h0M597.4 396.6h0M607.4 403.7h0M611.3 391.7h0M620.6 414.7h0M592.9 388.3h0M612.3 423.2h0M610.3 417.6h0M599.3 398.4h0M611.2 404.9h0M595.5 389.6h0M585.8 405.0h0M584.7 412.5h0M588.7 419.5h0M590.8 396.7h0M596.7 408.3h0M601.7 416.7h0M600.8 425.8h0M580.0 428.3h0M576.7 430.0h0M719.2 528.3h0M726.7 539.2h0M726.7 545.0h0M563.3 490.0h0M565.0 496.7h0M561.7 501.7h0M566.7 501.7h0M618.1 456.9h0M644.8 436.7h0M603.6 438.4h0M610.3 458.9h0M626.6 452.8h0M668.3 440.2h0M654.1 451.2h0M636.0 438.8h0M640.9 462.1h0M629.5 453.5h0M655.4 438.9h0M651.4 433.1h0M650.3 439.1h0M608.1 442.3h0M634.4 450.2h0M636.4 462.2h0M619.9 437.8h0M614.4 462.3h0M604.8 454.2h0M612.9 443.5h0M641.3 453.1h0M622.0 433.9h0M634.5 457.9h0M670.0 439.8h0M651.7 438.9h0M626.5 460.5h0M634.2 450.5h0M605.4 443.9h0M652.9 461.9h0M650.0 441.4h0M623.4 436.0h0M626.5 434.3h0M645.3 450.6h0M641.1 440.3h0M607.6 443.1h0M647.7 463.7h0M614.0 458.7h0M616.5 433.8h0M668.7 444.5h0M631.1 429.7h0M623.0 445.4h0M670.3 443.3h0M606.1 465.8h0M675.7 432.1h0M658.1 454.8h0M611.3 433.4h0M648.3 464.4h0M635.5 433.8h0M667.9 441.5h0M653.7 443.5h0M621.1 430.0h0M602.2 434.2h0M639.7 451.1h0M650.8 450.1h0M611.2 440.7h0M603.7 431.0h0M603.8 438.9h0M657.1 457.1h0M643.0 450.7h0M625.9 461.1h0M632.9 430.7h0M647.6 447.4h0M629.4 432.1h0M664.7 432.5h0M615.3 465.7h0M610.0 467.3h0M614.8 441.1h0M648.8 432.6h0M625.9 446.0h0M615.3 446.2h0M619.5 461.7h0M612.0 437.2h0M670.2 437.1h0M656.7 449.0h0M659.0 445.3h0M633.0 454.0h0M601.3 437.6h0M603.6 455.2h0M606.5 445.4h0M647.5 442.5h0M648.3 464.8h0M609.4 441.0h0M626.0 463.8h0M625.5 451.5h0M602.9 446.5h0M654.2 437.2h0M665.6 438.6h0M660.4 430.6h0M606.4 459.5h0M657.8 444.5h0M615.9 456.5h0M611.6 430.7h0M615.2 445.0h0M616.9 465.5h0M615.2 447.5h0M603.8 450.4h0M606.6 454.4h0M619.4 467.4h0M659.3 439.7h0M605.3 433.6h0M645.0 446.0h0M634.2 464.1h0M666.8 445.5h0M631.7 463.6h0M638.7 457.1h0M660.1 436.9h0M631.3 453.8h0M607.7 461.4h0M648.3 456.5h0M637.7 447.4h0M609.1 454.0h0M631.5 438.3h0M624.4 437.8h0M651.0 462.3h0M707.2 454.3h0M703.0 458.7h0M719.5 466.5h0M689.7 446.5h0M706.0 439.9h0M712.0 445.9h0M683.3 461.3h0M696.3 431.7h0M698.4 444.3h0M700.4 458.3h0M703.3 458.1h0M697.6 429.0h0M681.3 457.8h0M711.9 446.3h0M722.3 471.6h0M694.5 450.2h0M720.0 454.5h0M722.6 471.5h0M710.7 476.1h0M675.3 456.8h0M718.0 456.6h0M704.5 476.0h0M689.8 439.8h0M722.9 453.9h0M700.4 452.1h0M698.1 435.0h0M712.8 456.2h0M700.0 444.4h0M686.5 459.6h0M681.3 454.9h0M703.0 475.2h0M707.9 461.9h0M704.0 434.0h0M717.8 453.4h0M693.4 467.3h0M698.3 429.4h0M710.4 467.0h0M709.5 449.9h0M714.0 466.7h0M684.5 437.6h0M678.3 456.9h0M706.3 467.2h0M710.1 458.0h0M683.2 446.9h0M710.4 475.6h0M690.6 460.5h0M711.5 447.0h0M714.7 445.6h0M686.3 457.2h0M685.6 457.6h0M680.7 457.9h0M705.9 455.2h0M682.6 424.0h0M701.7 429.9h0M697.6 441.3h0M721.0 465.9h0M692.6 449.5h0M693.2 444.4h0M688.8 428.6h0M714.1 443.8h0M723.7 471.1h0M722.6 456.1h0M697.6 468.2h0M685.3 452.2h0M691.5 446.0h0M707.8 445.8h0M711.1 442.7h0M691.1 463.3h0M721.5 471.7h0M679.5 461.2h0M702.6 467.8h0M689.1 456.8h0M724.2 458.1h0M697.3 461.4h0M719.4 463.9h0M695.2 454.2h0M696.5 444.7h0M692.5 450.4h0M712.1 442.9h0M687.7 428.2h0M691.2 426.2h0M686.3 449.9h0M699.2 464.4h0M708.5 449.1h0M694.4 462.3h0M721.3 455.1h0M683.5 446.1h0M696.0 470.3h0M699.0 447.3h0M704.5 470.6h0M694.8 425.0h0M680.1 455.0h0M725.0 463.9h0M695.2 457.3h0M697.3 434.5h0M713.3 472.8h0M689.9 433.6h0M683.2 423.3h0M723.0 459.2h0M700.8 469.7h0M699.6 455.2h0M681.6 447.6h0M705.7 462.8h0M718.5 463.9h0M710.7 453.3h0M704.5 474.9h0M715.1 471.8h0M702.1 432.1h0M680.7 426.9h0M694.6 434.2h0M694.1 452.9h0M707.5 475.9h0M708.3 469.5h0M716.2 463.6h0M721.7 451.8h0M716.8 472.1h0M704.3 438.0h0M698.0 449.5h0M705.7 476.3h0M703.3 446.9h0M701.6 429.6h0M716.2 451.7h0M697.4 471.0h0M681.3 458.3h0M698.9 457.9h0M697.5 464.4h0M709.2 453.8h0M711.2 468.7h0M694.7 429.8h0M685.2 423.0h0M705.4 447.9h0M708.8 448.4h0M693.4 467.1h0M722.5 467.1h0M722.9 468.3h0M683.8 429.6h0M717.7 456.1h0M696.7 436.7h0M701.5 433.4h0M701.1 473.8h0M702.3 462.7h0M705.8 471.9h0M691.3 437.9h0M686.5 426.5h0M702.9 467.7h0M692.5 439.7h0M681.8 440.5h0M689.2 437.6h0M707.0 475.3h0M699.5 434.3h0M687.3 456.9h0M702.8 457.2h0M687.4 446.8h0M679.8 424.5h0M688.4 424.9h0M691.7 427.4h0M714.5 461.7h0M689.7 447.0h0M719.4 471.8h0M712.5 468.5h0M692.9 457.3h0M697.5 430.8h0M695.2 427.8h0M690.2 440.1h0M708.9 476.4h0M705.6 467.2h0M720.4 459.8h0M714.8 445.6h0M718.9 461.0h0M693.1 467.0h0M698.6 467.0h0M698.4 427.4h0M716.8 447.8h0M689.5 468.7h0M692.9 460.3h0M696.5 432.0h0M692.6 425.4h0M696.8 472.1h0M703.8 441.2h0M683.4 461.9h0M696.3 438.6h0M707.3 443.7h0M709.9 475.0h0M687.2 464.6h0M691.6 428.5h0M719.6 451.6h0M692.3 462.9h0M691.6 445.4h0M687.9 433.0h0M697.4 466.6h0M691.1 427.1h0M681.6 449.4h0M687.8 463.7h0M705.4 471.3h0M708.2 472.3h0M693.9 452.3h0M693.3 431.8h0M715.0 448.0h0M712.7 461.4h0M710.1 458.0h0M708.2 439.1h0M684.4 443.9h0M683.9 456.8h0M706.7 451.4h0M722.4 457.7h0M207.9 535.2h0M175.7 543.6h0M175.7 557.1h0M215.3 559.3h0M190.8 530.3h0M175.3 553.0h0M198.0 519.2h0M179.9 513.0h0M281.8 529.9h0M190.2 525.4h0M254.7 535.0h0M222.0 547.5h0M215.8 527.9h0M178.3 517.4h0M231.4 538.2h0M210.8 534.0h0M253.1 546.3h0M178.2 516.0h0M189.2 539.0h0M212.9 523.7h0M200.4 526.5h0M217.1 539.5h0M246.1 517.3h0M180.3 531.7h0M185.4 534.8h0M161.1 552.5h0M164.2 546.8h0M270.5 528.9h0M212.7 534.4h0M190.8 545.8h0M258.9 527.9h0M190.4 562.9h0M248.9 524.9h0M195.8 522.1h0M170.7 541.8h0M167.6 557.5h0M212.5 523.3h0M200.3 519.4h0M215.2 526.3h0M199.4 562.4h0M173.9 558.6h0M182.6 528.0h0M156.7 554.1h0M213.6 549.9h0M175.5 561.9h0M233.0 537.6h0M234.1 508.8h0M197.8 556.7h0M211.9 534.3h0M244.2 516.4h0M183.4 538.9h0M237.6 504.9h0M221.8 517.7h0M215.2 507.4h0M238.6 533.0h0M197.0 528.7h0M185.7 547.6h0M202.1 525.5h0M170.3 523.2h0M163.4 541.4h0M214.6 519.3h0M174.8 529.7h0M175.7 526.9h0M211.2 543.9h0M253.5 536.1h0M261.6 534.0h0M174.7 550.1h0M240.6 504.8h0M160.3 551.2h0M208.9 523.8h0M213.9 536.3h0M207.8 543.1h0M214.7 547.7h0M234.0 513.3h0M265.7 537.1h0M222.1 510.3h0M211.4 564.0h0M233.8 524.1h0M164.8 529.9h0M204.2 552.0h0M217.0 516.7h0M190.4 538.5h0M217.3 515.0h0M194.2 565.7h0M188.9 549.1h0M187.8 543.7h0M195.0 563.3h0M252.0 528.3h0M250.4 543.7h0M191.9 562.9h0M262.9 532.4h0M199.3 543.7h0M174.2 550.2h0M199.2 561.2h0M229.3 549.0h0M200.0 565.7h0M180.3 543.0h0M229.3 547.5h0M194.2 551.8h0M236.1 519.1h0M247.8 540.4h0M227.4 530.5h0M180.7 513.4h0M241.0 542.9h0M238.0 534.7h0M221.9 523.7h0M198.9 525.9h0M232.1 541.2h0M163.5 560.4h0M244.6 532.5h0M174.7 527.0h0M220.7 527.5h0M193.9 519.2h0M163.1 536.3h0M229.9 530.7h0M180.2 532.1h0M234.4 545.6h0M235.0 536.2h0M255.4 526.2h0M217.4 547.9h0M195.6 518.9h0M221.7 557.6h0M180.9 555.8h0M174.2 551.0h0M266.4 526.5h0M219.8 523.7h0M168.9 527.4h0M237.1 508.6h0M233.9 523.4h0M221.1 526.7h0M263.0 536.1h0M212.3 511.8h0M176.9 539.7h0M234.4 520.3h0M178.2 519.0h0M202.1 518.6h0M175.8 529.7h0M232.7 535.0h0M234.6 505.2h0M209.8 534.1h0M239.9 510.3h0M207.6 538.2h0M180.8 513.5h0M193.3 544.0h0M210.0 521.6h0M169.1 535.5h0M219.3 515.2h0M178.3 526.3h0M164.1 533.3h0M201.2 564.7h0M217.6 525.8h0M232.2 549.0h0M186.1 551.5h0M197.3 538.3h0M235.6 517.0h0M181.1 552.2h0M222.7 551.2h0M209.0 512.3h0M197.8 518.2h0M195.6 520.1h0M216.7 560.7h0M171.4 528.2h0M192.8 545.5h0M234.0 533.0h0M160.9 545.6h0M168.4 528.7h0M187.8 521.5h0M220.8 554.4h0M237.5 550.7h0M213.3 518.7h0M188.5 549.0h0M198.7 539.7h0M218.1 563.8h0M211.0 510.7h0M154.3 547.3h0M243.6 550.6h0M196.8 532.6h0M226.8 534.7h0M201.8 542.3h0M174.0 558.4h0M227.0 532.0h0M213.0 506.6h0M260.4 531.8h0M235.4 543.9h0M192.5 518.7h0M200.7 533.8h0M230.5 510.9h0M236.7 534.8h0M209.2 514.8h0M248.2 535.0h0M184.5 555.5h0M211.5 536.3h0M240.0 505.9h0M253.3 525.3h0M207.8 559.0h0M156.9 550.1h0M195.2 531.5h0M177.4 539.1h0M247.3 548.7h0M168.8 522.7h0M203.6 541.8h0M212.1 567.5h0M218.3 537.0h0M229.9 509.4h0M215.4 562.6h0M150.3 545.3h0M186.8 547.8h0M170.7 519.3h0M170.5 521.2h0M204.0 545.9h0M195.5 529.6h0M199.1 556.4h0M162.7 541.7h0M237.6 549.2h0M195.1 540.5h0M219.5 560.0h0M198.9 529.0h0M180.0 546.7h0M238.9 512.7h0M192.6 552.3h0M175.6 563.4h0M190.4 516.5h0M210.9 526.2h0M223.4 554.4h0M210.6 560.7h0M173.1 524.1h0M168.4 543.6h0M203.9 560.1h0M214.7 564.5h0M178.4 527.9h0M222.2 519.3h0M228.8 545.1h0M197.9 542.3h0M240.3 505.3h0M224.0 544.3h0M178.4 534.7h0M240.8 525.7h0M176.7 554.8h0M211.2 568.1h0M188.0 538.8h0M262.5 535.0h0M203.1 543.9h0M267.5 532.5h0M231.6 521.4h0M264.2 537.0h0M213.6 535.3h0M180.1 555.2h0M188.7 557.8h0M204.7 539.1h0M165.2 530.6h0M207.3 523.3h0M210.6 566.1h0M190.9 561.4h0M202.6 530.7h0M159.5 556.6h0M166.7 529.7h0M171.6 535.9h0M213.6 542.7h0M190.7 566.0h0M207.6 513.0h0M182.4 554.7h0M245.1 548.6h0M195.7 514.1h0M185.5 552.9h0M240.2 529.1h0M237.0 534.4h0M172.7 533.8h0M175.4 559.8h0M210.6 540.2h0M234.9 512.9h0M270.7 531.4h0M190.9 530.3h0M260.6 541.2h0M256.5 538.6h0M182.1 562.3h0M229.5 513.9h0M256.6 528.2h0M189.8 519.8h0M224.3 545.8h0M217.8 562.0h0M167.8 561.6h0M204.5 551.1h0M214.3 566.3h0M259.1 543.2h0M190.7 555.8h0M269.4 536.5h0M218.3 565.4h0M229.0 518.3h0M168.1 524.2h0M204.0 529.8h0M216.8 512.7h0M244.4 537.3h0M213.0 560.2h0M226.4 536.8h0M165.3 540.5h0M222.2 559.6h0M192.6 514.9h0M208.0 515.6h0M240.7 530.2h0M224.9 517.0h0M190.4 554.6h0M184.4 522.2h0M211.1 522.4h0M222.0 537.7h0M205.1 558.3h0M212.9 529.3h0M218.2 552.8h0M176.7 550.1h0M229.5 514.7h0M227.5 556.9h0M190.5 549.1h0M186.9 542.8h0M178.1 531.2h0M180.2 537.0h0M178.9 537.7h0M178.9 541.4h0M276.3 532.3h0M183.3 523.8h0M229.5 540.5h0M239.3 537.2h0M228.7 508.1h0M169.5 539.7h0M212.9 514.2h0M221.9 562.9h0M177.4 563.6h0M209.8 542.5h0M256.7 525.1h0M182.9 521.0h0M163.5 551.4h0M219.3 544.8h0M234.1 540.6h0M219.5 516.0h0M187.5 538.1h0M212.6 523.5h0M190.6 514.2h0M189.6 510.6h0M255.1 544.6h0M231.1 549.0h0M179.8 559.5h0M265.4 534.9h0M257.7 530.7h0M156.2 550.6h0M232.8 528.1h0M238.4 527.3h0M197.2 534.1h0M199.8 522.5h0M209.5 510.1h0M214.2 514.4h0M183.0 542.1h0M215.7 567.9h0M228.7 508.7h0M247.0 547.5h0M200.6 542.5h0M209.9 541.3h0M201.8 517.9h0M213.4 555.0h0M223.3 538.1h0M191.2 539.0h0M212.8 557.7h0M221.8 524.2h0M196.5 542.4h0M250.4 543.6h0M174.6 542.2h0M177.8 530.3h0M244.0 543.5h0M189.4 531.8h0M207.4 555.2h0M182.2 538.6h0M240.4 548.4h0M201.8 552.3h0M179.8 535.7h0M178.8 556.6h0M216.0 523.5h0M193.0 519.7h0M224.8 534.8h0M167.4 557.8h0M183.3 539.8h0M178.6 524.9h0M191.6 519.4h0M242.2 509.0h0M203.8 542.7h0M238.4 545.8h0M188.0 539.9h0M206.2 551.3h0M198.9 525.5h0M231.1 524.4h0M180.6 536.0h0M225.6 525.5h0M205.2 545.4h0M209.3 527.5h0M201.0 537.3h0M212.2 559.4h0M237.8 508.8h0M217.7 508.2h0M257.5 533.2h0M163.0 555.9h0M187.2 561.2h0M257.9 525.8h0M169.7 544.1h0M183.6 511.9h0M218.0 560.2h0M210.2 532.0h0M210.5 551.9h0M237.3 508.8h0M197.1 535.6h0M186.1 556.9h0M229.0 538.8h0M199.0 524.5h0M238.0 525.4h0M247.3 542.9h0M212.5 553.3h0M252.0 524.6h0M230.2 529.4h0M233.6 510.6h0M215.7 552.4h0M274.5 529.9h0M195.6 512.9h0M166.1 548.6h0M208.3 563.3h0M239.7 530.5h0M215.4 557.0h0M216.6 526.8h0M205.0 547.2h0M207.8 518.3h0M230.0 513.5h0M214.7 510.2h0M234.3 540.2h0M234.9 528.4h0M183.3 527.0h0M182.6 556.7h0M238.2 525.3h0M246.9 539.4h0M166.7 545.4h0M252.3 527.2h0M223.8 515.0h0M200.0 547.0h0M215.7 546.8h0M258.3 533.8h0M206.7 531.5h0M194.3 530.6h0M248.3 529.0h0M236.0 527.8h0M168.9 546.7h0M261.5 540.3h0M210.9 558.1h0M227.1 529.7h0M210.2 520.5h0M186.6 537.7h0M215.4 538.9h0M173.6 557.2h0M196.3 554.5h0M246.3 544.7h0M195.0 521.5h0M251.6 522.6h0M181.6 560.2h0M186.6 546.0h0M282.4 532.3h0M212.3 522.3h0M187.2 518.5h0M213.1 528.3h0M215.3 517.3h0M242.2 515.3h0M167.8 539.3h0M211.2 539.7h0M190.6 558.7h0M213.7 536.4h0M213.9 554.8h0M195.2 514.5h0M277.8 528.4h0M183.3 533.4h0M240.9 545.7h0M214.8 542.7h0M168.0 543.5h0M216.6 516.6h0M244.3 531.3h0M216.1 540.5h0M190.0 540.7h0M190.2 564.3h0M176.0 545.2h0M181.7 532.8h0M264.1 532.0h0M209.7 522.6h0M165.5 526.7h0M211.8 520.6h0M205.3 550.6h0M241.3 521.4h0M215.0 548.3h0M207.7 520.3h0M201.1 560.8h0M165.8 527.0h0M206.4 555.4h0M206.4 564.1h0M180.3 558.0h0M266.2 530.6h0M225.2 552.6h0M192.0 528.5h0M185.3 529.9h0M202.1 564.4h0M264.3 536.8h0M196.4 562.3h0M166.8 542.8h0M167.1 544.1h0M183.3 529.5h0M229.9 553.6h0M241.2 524.4h0M251.4 536.2h0M208.9 567.1h0M166.4 524.2h0M189.4 534.1h0M236.6 511.7h0M209.8 554.7h0M194.0 521.6h0M235.0 516.4h0M173.9 536.6h0M221.9 556.6h0M243.1 521.5h0M215.6 509.9h0M177.1 524.4h0M161.9 546.3h0M185.0 545.2h0M194.2 558.9h0M186.9 561.5h0M236.1 551.3h0M242.0 537.4h0M216.3 507.4h0M193.8 547.3h0M254.4 537.5h0M173.3 529.0h0M197.3 555.0h0M168.4 526.1h0M216.0 564.7h0M213.9 566.0h0M179.0 559.1h0M196.2 539.2h0M189.7 564.5h0M219.6 540.1h0M246.6 545.9h0M209.2 537.2h0M217.4 534.5h0M221.0 563.0h0M181.1 550.2h0M179.1 564.5h0M184.8 543.6h0M204.7 539.1h0M255.2 492.1h0M252.4 487.6h0M254.6 491.4h0M257.8 494.9h0M260.1 486.8h0M251.4 492.3h0M258.3 490.4h0M254.4 492.9h0M251.6 490.8h0M261.4 492.4h0M255.8 491.1h0M258.7 493.7h0M260.4 489.3h0M255.0 489.0h0M252.3 492.5h0M254.3 494.3h0M258.9 487.3h0M255.7 494.7h0M256.7 487.2h0M255.1 493.1h0M257.7 489.4h0M248.3 498.0h0M241.7 510.0h0M245.7 508.7h0M231.0 507.3h0M237.7 502.0h0M161.0 534.0h0M167.0 519.3h0M150.3 542.0h0M155.0 546.0h0M158.3 544.0h0M152.3 550.0h0M151.7 555.3h0M236.3 563.3h0M239.0 568.7h0M235.0 573.3h0M228.3 578.0h0M220.3 578.0h0M217.7 572.7h0M216.3 566.0h0M220.3 566.0h0M226.3 568.7h0M223.0 576.7h0M709.2 581.3h0M778.1 593.8h0M774.4 588.6h0M749.8 598.6h0M711.3 582.7h0M747.7 597.8h0M747.7 597.4h0M764.1 589.9h0M748.7 594.9h0M773.2 595.2h0M782.0 587.5h0M773.0 596.7h0M769.4 591.3h0M772.4 599.1h0M740.6 593.2h0M777.9 587.6h0M754.3 603.4h0M777.3 588.6h0M760.6 603.8h0M749.7 605.3h0M713.2 587.2h0M781.0 588.1h0M745.1 592.7h0M748.9 599.0h0M746.4 600.1h0M720.1 592.4h0M768.3 602.5h0M736.3 597.2h0M746.7 600.5h0M772.3 599.1h0M728.8 598.0h0M748.7 595.2h0M754.3 593.8h0M735.5 593.1h0M715.5 588.6h0M756.8 596.4h0M748.1 603.8h0M737.3 600.4h0M766.2 595.2h0M772.6 598.7h0M710.9 584.7h0M727.8 590.4h0M739.9 596.5h0M755.6 593.7h0M766.7 586.7h0M758.9 598.6h0M753.5 595.2h0M752.5 593.9h0M783.1 585.0h0M771.1 601.9h0M750.6 595.2h0M775.4 594.9h0M739.1 598.2h0M745.6 592.7h0M732.7 600.2h0M747.4 600.7h0M770.5 587.8h0M782.8 586.1h0M751.4 599.4h0M771.4 586.0h0M774.9 589.5h0M751.9 596.6h0M770.8 587.2h0M761.6 596.7h0M738.1 601.1h0M767.3 591.6h0M773.1 601.9h0M759.4 600.1h0M770.1 595.7h0M757.5 596.9h0M724.1 592.6h0M762.1 600.3h0M727.4 589.9h0M770.6 587.4h0M736.7 595.7h0M779.1 594.5h0M764.6 595.1h0M778.3 589.5h0M770.9 585.6h0M768.9 588.1h0M753.2 598.9h0M782.4 582.5h0M773.6 598.3h0M747.7 598.8h0M775.0 588.5h0M729.7 593.4h0M732.0 590.9h0M750.6 604.7h0M755.6 599.1h0M762.2 593.7h0M760.3 602.6h0M774.6 601.0h0M728.0 598.7h0M744.8 600.6h0M732.6 597.8h0M775.0 595.9h0M767.4 590.3h0M755.9 596.5h0M742.8 602.3h0M729.4 593.2h0M745.8 604.0h0M763.0 602.9h0M770.1 592.3h0M772.2 596.6h0M744.0 602.3h0M776.3 588.0h0M778.5 584.6h0M727.2 592.3h0M765.4 589.4h0M783.0 582.8h0M750.3 599.2h0M740.8 537.2h0M740.6 554.0h0M737.8 538.1h0M742.7 546.1h0M752.2 556.7h0M747.5 548.6h0M739.7 552.9h0M741.3 537.7h0M740.0 556.3h0M743.5 557.4h0M732.0 554.2h0M745.0 548.5h0M730.9 560.8h0M730.4 555.0h0M728.5 560.1h0M735.2 553.8h0M748.0 553.8h0M730.3 557.5h0M746.2 549.1h0M741.5 543.6h0M730.1 556.7h0M740.3 539.8h0M731.7 560.2h0M741.2 537.4h0M741.4 550.4h0M743.4 548.6h0M735.1 553.3h0M742.3 558.4h0M739.6 538.3h0M743.3 549.6h0M751.0 555.5h0M745.1 550.3h0M752.1 556.1h0M733.8 556.6h0M731.1 561.7h0M735.2 555.6h0M754.1 554.4h0M737.7 551.8h0M747.8 555.4h0M731.2 561.2h0M751.4 550.5h0M741.0 557.3h0M734.2 554.4h0M719.3 528.8h0M726.8 539.0h0M726.8 545.5h0M724.5 558.0h0M723.5 562.0h0M729.5 551.5h0M732.0 569.0h0M737.3 570.8h0M743.5 569.0h0M747.0 565.5h0M747.2 573.5h0M755.0 571.5h0M758.5 562.0h0M756.0 562.8h0M762.8 573.7h0M771.0 578.3h0M758.0 584.0h0M743.3 582.3h0M725.5 577.0h0M715.0 580.0h0M786.0 565.0h0M786.0 569.0h0M784.0 581.0h0M729.5 588.0h0M746.5 589.0h0M894.4 584.0h0M894.3 582.6h0M893.4 581.5h0M896.8 579.3h0M894.4 578.4h0M893.2 577.0h0M896.1 575.1h0M893.6 573.5h0M896.5 572.7h0M897.8 571.7h0M898.5 570.4h0M898.5 570.1h0M894.5 566.0h0M899.8 567.2h0M896.6 563.4h0M901.4 564.9h0M899.5 561.9h0M899.4 560.5h0M898.4 558.8h0M903.0 559.2h0M903.6 558.1h0M903.8 556.7h0M900.8 554.5h0M903.0 553.9h0M906.0 554.4h0M902.1 550.3h0M905.8 551.0h0M904.5 548.6h0M906.5 548.2h0M907.1 546.9h0M905.8 544.4h0M906.0 542.4h0M906.9 541.2h0M908.9 540.9h0M911.1 540.7h0M912.8 540.4h0M914.2 539.9h0M912.9 535.2h0M914.8 535.3h0M911.1 553.1h0M914.5 560.0h0M912.5 580.1h0M870.3 368.0h0M918.6 375.4h0M947.8 379.6h0M960.8 379.0h0M967.2 372.1h0M961.5 366.0h0M960.0 367.0h0M891.1 427.6h0M893.9 433.3h0M412.0 389.3h0M415.3 389.7h0M410.0 397.7h0M408.7 409.3h0M393.7 407.3h0M393.4 411.2h0M401.3 412.1h0M409.2 410.4h0M388.4 422.5h0M395.9 431.2h0M418.4 414.6h0M419.7 418.3h0M418.8 425.0h0M415.9 429.2h0M398.0 422.9h0M392.6 423.8h0M478.7 353.8h0M487.1 349.3h0M493.6 344.2h0M495.0 361.5h0M494.5 351.7h0M701.3 576.2h0M703.0 577.4h0M704.1 579.1h0M705.1 580.8h0M707.4 580.9h0M707.4 583.0h0M710.1 582.8h0M709.9 585.1h0M710.5 586.9h0M712.9 586.5h0M713.0 589.0h0M714.3 590.2h0M716.5 590.2h0M718.2 591.3h0M720.5 590.6h0M721.7 593.5h0M724.1 593.0h0M736.3 534.6h0M737.9 535.3h0M738.2 537.6h0M740.6 537.4h0M740.1 540.5h0M742.9 540.5h0M744.9 541.5h0M745.6 543.3h0M747.5 544.4h0M748.1 546.1h0M747.1 549.0h0M749.2 549.5h0M992.3 640.3h0M972.7 704.7h0M1019.8 636.7h0M972.6 741.7h0M983.8 645.6h0M1021.4 715.3h0M979.2 747.5h0M944.4 727.4h0M975.6 702.3h0M949.8 759.4h0M974.0 704.7h0M1031.2 727.4h0M961.9 686.4h0M942.0 744.1h0M966.7 662.9h0M975.0 710.2h0M1008.7 655.3h0M1020.9 643.6h0M970.2 711.2h0M1023.0 653.9h0M969.6 673.9h0M969.7 657.9h0M1042.3 661.3h0M949.8 728.1h0M996.8 639.7h0M1017.4 657.5h0M994.8 720.0h0M996.2 652.6h0M986.7 699.4h0M997.5 693.4h0M995.6 693.2h0M942.7 715.1h0M1003.2 693.7h0M935.5 741.0h0M975.3 752.5h0M1021.4 718.8h0M990.6 685.7h0M972.1 660.8h0M1017.2 699.8h0M1007.1 672.0h0M1042.1 671.3h0M955.3 738.7h0M974.2 656.1h0M1027.1 726.1h0M1013.4 644.3h0M974.3 645.5h0M1014.3 671.0h0M940.5 681.1h0M1006.5 665.9h0M979.3 773.4h0M975.5 744.2h0M1034.9 673.2h0M988.2 642.9h0M1004.5 706.3h0M941.4 682.0h0M1043.8 649.9h0M1007.8 687.6h0M994.0 668.4h0M989.3 751.5h0M1052.3 656.7h0M1033.8 678.9h0M978.5 663.6h0M1006.5 656.3h0M1051.7 663.8h0M1018.5 744.7h0M990.4 744.4h0M1030.8 656.4h0M1015.9 717.9h0M979.6 761.6h0M986.4 693.2h0M959.7 674.5h0M1040.0 683.5h0M928.7 752.5h0M923.7 752.2h0M982.9 730.0h0M937.4 770.1h0M992.0 645.8h0M981.5 635.2h0M966.0 700.2h0M966.6 724.3h0M1029.4 718.1h0M971.0 698.7h0M991.4 627.8h0M957.9 776.9h0M1041.0 654.5h0M972.9 701.9h0M924.0 772.6h0M1032.1 660.2h0M972.5 671.9h0M933.7 772.5h0M950.9 718.8h0M952.7 769.5h0M969.0 642.0h0M999.1 717.3h0M939.4 748.7h0M1021.7 634.3h0M954.1 670.2h0M1001.7 668.1h0M973.9 637.1h0M1018.1 672.1h0M1001.2 686.2h0M1010.6 754.6h0M939.9 750.0h0M1012.7 740.6h0M976.5 667.1h0M962.5 732.3h0M959.2 721.4h0M951.3 769.3h0M1033.6 713.1h0M992.2 758.0h0M995.6 737.6h0M995.7 681.6h0M984.9 764.1h0M925.6 774.6h0M975.9 696.0h0M1000.3 747.0h0M949.6 688.7h0M944.0 716.2h0M1045.9 672.3h0M1048.5 644.6h0M993.8 646.0h0M963.8 775.6h0M994.1 634.0h0M1004.2 730.4h0M965.2 712.8h0M1017.5 673.7h0M964.4 666.4h0M986.0 701.7h0M991.0 773.5h0M979.9 650.0h0M1012.5 703.3h0M945.5 708.9h0M987.0 699.1h0M1008.5 625.0h0M1025.7 694.1h0M1024.6 696.3h0M963.0 712.6h0M1005.8 763.7h0M945.4 692.5h0M949.9 716.7h0M986.8 657.2h0M988.0 660.5h0M1019.0 702.2h0M952.3 760.8h0M960.8 714.2h0M993.5 653.6h0M1043.8 668.4h0M959.4 692.5h0M951.5 682.7h0M958.4 657.4h0M982.3 644.8h0M993.7 710.6h0M1021.8 731.9h0M946.1 709.9h0M1027.0 654.1h0M942.6 689.9h0M1001.1 644.3h0M1007.9 742.7h0M984.4 695.4h0M1017.8 643.2h0M954.7 687.1h0M1010.8 740.0h0M1024.8 631.7h0M998.4 707.2h0M928.4 772.0h0M1004.6 650.2h0M1002.0 670.2h0M979.3 660.0h0M987.3 705.6h0M972.0 660.0h0M966.9 649.5h0M1006.4 656.4h0M957.7 713.7h0M987.0 774.1h0M934.7 768.7h0M965.4 744.9h0M1000.8 768.3h0M986.9 637.2h0M1023.7 742.6h0M1029.5 692.3h0M1019.4 643.1h0M999.4 675.9h0M980.6 719.1h0M954.6 672.0h0M993.5 727.6h0M1015.1 713.6h0M1003.1 694.0h0M995.1 688.1h0M961.1 703.2h0M966.0 688.8h0M980.4 651.7h0M977.9 681.6h0M923.2 767.7h0M985.3 645.6h0M1035.7 681.1h0M1047.0 644.4h0M1025.0 745.4h0M992.1 766.8h0M990.3 740.1h0M944.9 714.8h0M941.2 681.1h0M956.3 776.4h0M948.8 750.2h0M1003.1 738.8h0M952.2 686.1h0M1032.9 654.7h0M1007.8 750.4h0M1024.1 717.4h0M1032.8 657.7h0M969.7 718.7h0M919.6 766.8h0M968.0 674.8h0M957.1 736.5h0M992.0 702.8h0M967.2 644.8h0M1035.0 707.6h0M993.9 628.2h0M964.3 656.0h0M988.0 631.5h0M1015.9 719.3h0M969.9 716.4h0M953.5 662.0h0M999.3 756.0h0M970.0 763.1h0M991.1 772.0h0M1006.8 732.5h0M987.8 705.9h0M1006.2 771.8h0M1033.1 703.4h0M990.4 640.6h0M984.2 692.6h0M944.2 691.5h0M973.5 699.9h0M1002.6 709.2h0M1044.7 650.0h0M1036.9 714.1h0M1033.0 654.9h0M938.1 733.4h0M1041.7 681.2h0M962.6 740.6h0M960.1 722.3h0M973.9 728.7h0M965.1 693.3h0M1010.4 749.0h0M1009.1 729.5h0M1053.0 661.2h0M1015.8 709.9h0M981.6 722.6h0M949.4 703.5h0M969.9 667.7h0M1024.6 666.2h0M996.3 735.7h0M980.2 728.5h0M1000.3 646.1h0M1024.1 732.0h0M1018.7 714.6h0M991.7 630.8h0M951.4 675.5h0M972.1 674.4h0M986.7 770.2h0M957.8 669.0h0M1012.8 655.3h0M938.1 748.2h0M941.8 677.9h0M1011.8 751.6h0M1001.2 758.8h0M1031.2 649.7h0M975.4 652.7h0M950.7 674.3h0M1031.4 666.3h0M986.3 699.1h0M1019.0 680.3h0M1020.2 735.6h0M998.8 640.9h0M957.7 758.9h0M969.8 749.0h0M955.3 717.5h0M1043.5 663.6h0M1022.7 695.1h0M979.4 739.6h0M1026.0 691.8h0M996.2 771.5h0M1016.2 699.7h0M949.7 679.6h0M981.4 773.7h0M993.0 773.4h0M1019.4 677.1h0M959.2 753.0h0M947.0 764.8h0M1032.8 728.6h0M946.3 751.3h0M948.4 720.8h0M978.8 747.9h0M1002.2 703.6h0M1031.9 704.2h0M998.4 708.8h0M951.5 756.4h0M924.8 757.6h0M984.1 715.4h0M982.7 719.8h0M953.8 767.8h0M978.6 655.7h0M993.0 625.2h0M997.2 664.4h0M977.7 706.0h0M976.4 640.4h0M922.3 755.6h0M969.0 675.1h0M1003.7 710.7h0M929.1 763.2h0M992.9 714.5h0M983.3 710.3h0M1006.9 718.6h0M984.5 733.8h0M1003.2 765.1h0M964.9 670.0h0M939.6 751.8h0M978.0 665.0h0M1009.6 677.0h0M1030.1 692.4h0M972.9 710.1h0M932.7 766.8h0M958.3 709.5h0M977.3 765.3h0M1053.0 645.9h0M965.9 690.2h0M967.8 716.0h0M1032.6 703.3h0M957.9 654.6h0M997.0 631.4h0M1016.4 673.4h0M1012.2 649.5h0M1019.9 646.1h0M989.6 662.4h0M971.0 756.1h0M1031.2 729.0h0M1031.3 694.1h0M1042.3 683.1h0M999.3 698.5h0M1023.9 700.0h0M947.0 715.4h0M980.6 708.0h0M1000.9 690.0h0M947.3 760.3h0M1021.2 727.6h0M1014.2 666.2h0M1028.6 739.3h0M1007.3 743.2h0M985.7 719.9h0M1026.1 644.8h0M1000.1 645.2h0M958.7 695.2h0M956.0 723.2h0M973.3 641.5h0M995.9 680.1h0M975.8 701.1h0M1047.5 644.7h0M983.2 644.3h0M994.6 729.4h0M1004.6 668.0h0M957.6 771.5h0M934.3 752.9h0M975.8 695.3h0M1018.5 668.0h0M1001.8 710.5h0M972.6 737.7h0M945.3 675.8h0M945.8 689.4h0M953.2 715.8h0M991.7 645.5h0M991.4 630.1h0M941.7 751.6h0M960.4 717.7h0M991.7 717.2h0M987.5 740.9h0M999.3 626.6h0M1040.0 689.9h0M992.6 747.9h0M1035.7 658.1h0M977.1 710.3h0M1024.3 685.4h0M987.0 694.9h0M1000.9 653.5h0M972.5 681.1h0M998.8 642.7h0M964.9 680.9h0M956.1 685.4h0M1005.6 685.1h0M996.2 674.4h0M1004.7 755.1h0M952.4 683.4h0M984.2 672.2h0M940.7 680.0h0M982.1 678.2h0M930.2 763.0h0M1048.3 651.4h0M953.2 698.3h0M1000.5 756.7h0M921.8 757.5h0M1025.9 738.3h0M958.6 676.0h0M1017.4 692.0h0M991.8 717.8h0M988.8 663.7h0M963.0 772.1h0M999.2 752.9h0M1042.5 664.1h0M941.7 737.1h0M1028.2 691.9h0M1020.1 724.1h0M982.7 718.6h0M1006.0 707.7h0M1017.7 685.8h0M963.1 754.1h0M928.4 741.4h0M1038.2 707.5h0M1019.2 712.6h0M924.8 765.6h0M957.5 659.5h0M1044.4 675.8h0M971.4 766.7h0M975.8 693.2h0M960.6 761.1h0M1019.0 737.9h0M934.7 756.6h0M977.5 647.1h0M1045.5 648.1h0M1042.0 657.8h0M954.7 758.5h0M1024.1 702.1h0M997.4 660.4h0M980.1 650.0h0M1002.0 763.2h0M1044.5 667.5h0M967.4 770.4h0M1014.3 752.0h0M972.2 636.9h0M978.5 731.1h0M1029.3 673.4h0M1006.8 656.5h0M1037.2 679.5h0M1041.4 696.0h0M1000.3 699.9h0M949.7 666.4h0M971.5 697.2h0M929.5 777.8h0M974.2 734.1h0M1019.0 674.7h0M1005.1 648.6h0M1000.4 685.4h0M959.7 722.2h0M993.9 719.6h0M1005.2 641.7h0M1026.3 692.4h0M996.5 644.1h0M946.8 692.7h0M999.2 649.0h0M1033.8 651.1h0M990.8 775.4h0M978.3 633.4h0M963.9 662.0h0M1024.8 744.6h0M971.4 752.0h0M982.7 724.0h0M1032.5 648.2h0M982.1 739.2h0M955.7 658.0h0M1001.5 678.0h0M985.4 728.5h0M975.3 647.2h0M958.8 678.6h0M1009.7 670.6h0M1023.8 636.8h0M1017.6 695.8h0M936.3 745.8h0M1054.5 656.3h0M1001.0 632.5h0M957.4 777.4h0M1018.1 659.1h0M960.8 730.5h0M1015.7 750.7h0M1002.2 625.5h0M1017.6 630.2h0M941.2 682.4h0M943.3 756.7h0M985.5 759.3h0M1052.8 651.7h0M994.4 712.8h0M1046.6 665.4h0M929.3 766.6h0M934.3 766.3h0M1023.8 698.3h0M956.9 672.5h0M1021.9 638.3h0M1002.2 631.2h0M979.0 765.8h0M978.0 694.0h0M950.0 688.4h0M1028.4 673.9h0M999.3 728.7h0M1016.4 699.2h0M935.4 743.2h0M1022.8 743.4h0M1020.9 688.8h0M954.9 705.7h0M944.4 740.5h0M1013.6 645.6h0M990.8 659.8h0M974.1 759.3h0M945.7 717.8h0M978.6 639.0h0M1025.0 631.8h0M961.3 681.5h0M991.2 691.5h0M1023.8 725.7h0M972.4 704.3h0M959.8 661.4h0M974.8 772.6h0M971.3 646.2h0M1005.3 635.1h0M1002.0 650.7h0M1007.8 722.4h0M991.7 675.9h0M1024.9 744.0h0M957.8 655.2h0M966.8 650.9h0M990.2 694.0h0M1015.9 687.9h0M995.5 675.2h0M986.2 696.4h0M1025.4 743.0h0M935.1 771.9h0M970.6 666.5h0M978.0 727.7h0M1020.7 650.4h0M1017.6 661.2h0M1010.0 772.6h0M999.4 698.3h0M970.0 722.7h0M952.9 734.8h0M943.6 735.6h0M1020.4 665.4h0M991.2 751.1h0M1012.4 730.9h0M998.6 709.1h0M962.2 701.8h0M918.7 777.7h0M945.1 757.7h0M974.8 756.9h0M1007.6 668.6h0M995.9 692.3h0M963.6 699.2h0M993.7 710.7h0M982.1 771.2h0M970.9 748.4h0M1007.4 676.0h0M1025.4 697.8h0M1008.0 626.8h0M969.0 654.5h0M971.9 746.7h0M1009.7 729.1h0M986.9 638.1h0M999.3 643.3h0M973.0 733.9h0M926.5 774.4h0M997.3 711.6h0M962.3 738.3h0M953.6 756.9h0M956.7 709.7h0M991.4 745.5h0M1031.9 641.2h0M1002.0 689.8h0M934.0 772.2h0M1004.3 762.6h0M967.9 658.9h0M986.5 710.9h0M992.1 696.1h0M965.1 718.7h0M951.5 721.5h0M986.3 746.5h0M979.2 700.6h0M948.6 689.4h0M968.6 646.5h0M1038.7 663.4h0M981.2 767.3h0M1048.2 673.4h0M1018.4 707.9h0M978.0 684.5h0M961.7 776.1h0M978.6 710.3h0M978.2 678.0h0M938.8 748.8h0M1014.2 755.5h0M1006.0 670.7h0M1011.5 715.0h0M1007.3 628.2h0M946.0 763.0h0M1003.9 721.3h0M969.8 756.8h0M1018.9 643.0h0M1027.9 636.2h0M1027.6 736.2h0M1013.4 654.0h0M1055.1 651.6h0M1003.3 650.4h0M1036.9 701.9h0M977.3 633.1h0M1005.3 726.9h0M1021.7 697.8h0M1005.1 715.1h0M964.8 663.3h0M941.9 676.1h0M1048.9 648.4h0M1039.6 670.8h0M966.6 681.8h0M968.4 661.8h0M962.9 685.8h0M957.4 771.0h0M1005.1 642.2h0M992.9 742.4h0M1015.4 761.8h0M951.8 668.2h0M1007.8 757.4h0M1040.2 687.8h0M961.9 704.0h0M1024.4 683.5h0M967.0 707.8h0M1051.9 656.1h0M1034.3 707.5h0M966.4 743.0h0M1020.3 739.7h0M1006.0 765.7h0M1027.4 648.1h0M967.7 692.8h0M1003.9 702.0h0M977.3 640.0h0M976.3 740.9h0M1014.6 645.0h0M1036.5 692.7h0M989.5 713.7h0M1029.5 673.5h0M968.3 702.8h0M1004.5 676.9h0M980.0 640.8h0M1023.8 722.2h0M1025.5 729.6h0M1032.2 639.5h0M962.7 777.9h0M1015.9 763.3h0M974.0 750.9h0M980.3 658.3h0M985.3 775.9h0M1031.4 722.2h0M918.8 754.6h0M930.6 752.5h0M1051.1 655.4h0M1023.9 742.8h0M949.0 709.1h0M956.8 712.4h0M1006.2 727.8h0M1039.8 687.1h0M1008.1 649.3h0M1022.7 714.6h0M1006.6 627.7h0M1014.8 761.7h0M962.4 768.7h0M1029.0 671.1h0M976.1 705.2h0M983.7 641.4h0M1029.1 676.3h0M957.7 706.5h0M949.1 714.4h0M1011.5 648.9h0M949.9 688.0h0M979.5 763.8h0M973.7 682.7h0M954.2 676.5h0M952.7 740.8h0M948.6 717.5h0M1014.5 650.5h0M994.6 761.7h0M962.9 777.3h0M943.0 687.1h0M1009.3 703.9h0M1031.4 726.1h0M962.6 738.8h0M998.4 670.2h0M1025.2 684.7h0M1000.8 712.9h0M1047.6 647.3h0M970.3 679.0h0M1020.5 667.0h0M1013.2 690.2h0M940.1 677.5h0M941.0 687.0h0M1035.3 680.6h0M978.4 675.4h0M1027.8 682.6h0M985.4 762.0h0M1045.2 679.4h0M1038.5 644.0h0M989.8 707.2h0M994.2 742.6h0M959.5 678.6h0M966.5 763.3h0M1019.9 743.8h0M961.2 734.0h0M986.0 642.5h0M1002.9 728.0h0M942.8 672.2h0M930.7 775.4h0M1035.7 686.6h0M993.2 722.4h0M934.9 763.8h0M1002.9 714.7h0M1006.0 770.1h0M1032.6 668.1h0M1014.9 685.3h0M985.6 692.4h0M942.0 686.0h0M936.9 679.7h0M1006.8 666.2h0M987.1 676.5h0M970.1 762.2h0M1037.9 669.6h0M1034.7 649.8h0M1019.6 732.2h0M939.1 776.4h0M973.1 655.5h0M965.4 734.9h0M920.9 764.0h0M999.6 736.4h0M969.2 660.6h0M1027.9 651.5h0M1009.6 721.1h0M967.7 681.5h0M972.9 745.5h0M951.6 678.9h0M944.6 674.8h0M1014.5 711.4h0M984.9 671.0h0M957.6 758.0h0M917.4 759.8h0M994.3 768.7h0M948.0 671.6h0M1002.0 731.5h0M1018.1 666.9h0M946.0 732.9h0M973.7 680.1h0M1021.7 640.3h0M1010.9 710.0h0M1002.9 746.8h0M1012.3 746.2h0M967.5 725.8h0M1013.5 641.1h0M1030.6 662.4h0M919.4 779.0h0M1001.7 725.9h0M1018.3 716.4h0M963.8 645.1h0M987.6 760.6h0M946.7 729.7h0M936.3 757.6h0M963.7 756.5h0M974.0 647.8h0M980.9 768.8h0M1003.9 749.0h0M938.9 751.3h0M1017.1 667.7h0M960.3 761.8h0M978.0 697.1h0M999.4 743.2h0M1034.7 675.3h0M961.9 732.9h0M986.6 684.1h0M1037.0 675.1h0M965.2 687.9h0M1014.5 742.3h0M1008.2 747.5h0M940.8 748.8h0M979.7 676.0h0M1007.3 712.8h0M1034.7 706.7h0M1034.0 714.0h0M976.7 690.7h0M980.1 727.8h0M955.7 775.0h0M1045.3 662.6h0M969.9 758.9h0M1007.1 667.2h0M1011.3 630.4h0M981.3 707.4h0M937.8 758.3h0M996.4 758.8h0M1028.9 661.9h0M958.3 729.6h0M1011.9 758.4h0M999.5 707.9h0M1037.0 703.7h0M949.4 692.8h0M925.2 777.3h0M1038.7 643.0h0M981.9 736.8h0M944.0 758.9h0M1002.7 658.3h0M998.3 625.7h0M964.5 706.4h0M1024.5 722.8h0M1010.4 760.9h0M984.1 708.5h0M1028.4 630.5h0M973.7 637.0h0M1006.3 657.3h0M984.6 714.8h0M1013.1 741.5h0M968.2 779.2h0M969.1 776.4h0M1016.0 705.1h0M993.9 724.1h0M1007.0 723.7h0M1055.3 660.5h0M1026.4 675.3h0M1010.9 637.5h0M976.2 686.6h0M1032.7 649.6h0M1035.4 660.4h0M985.4 734.6h0M1009.8 684.0h0M960.1 718.9h0M988.5 642.3h0M955.5 721.8h0M1007.9 723.0h0M950.3 692.0h0M962.5 708.8h0M992.1 713.0h0M918.2 753.2h0M1029.1 730.2h0M950.9 675.0h0M972.0 732.4h0M1026.4 677.6h0M1009.0 715.7h0M977.7 697.6h0M978.2 648.9h0M1009.0 670.7h0M945.9 674.9h0M1019.2 641.4h0M960.7 688.8h0M966.1 678.2h0M1027.1 681.8h0M962.1 705.6h0M953.3 774.3h0M1016.1 766.6h0M973.2 701.0h0M939.0 741.9h0M992.6 720.3h0M972.7 752.1h0M975.1 761.3h0M945.7 697.4h0M943.4 759.0h0M966.5 660.0h0M1029.5 644.6h0M968.6 706.2h0M1024.5 645.5h0M963.9 707.0h0M962.0 748.0h0M1004.1 657.5h0M1027.3 719.8h0M917.9 758.6h0M1015.7 749.7h0M973.7 761.7h0M987.7 695.6h0M983.6 678.0h0M963.3 779.7h0M938.5 769.6h0M1017.4 755.3h0M989.7 765.6h0M1039.6 656.6h0M923.1 754.1h0M1017.2 758.9h0M986.5 701.2h0M975.0 642.1h0M1006.8 686.2h0M1011.6 679.2h0M932.8 753.7h0M986.5 689.4h0M948.5 768.5h0M953.0 706.5h0M996.2 661.3h0M987.0 680.7h0M978.0 771.1h0M951.5 772.6h0M933.8 738.1h0M1023.8 721.5h0M1013.5 639.6h0M985.9 632.6h0M999.3 747.5h0M993.2 744.8h0M973.5 716.9h0M1041.4 674.7h0M1023.9 690.8h0M979.3 685.2h0M993.8 654.1h0M984.4 737.5h0M1020.9 648.2h0M982.4 632.4h0M946.1 677.5h0M946.3 696.4h0M927.9 748.3h0M1028.7 643.7h0M1007.1 762.2h0M962.3 775.4h0M1016.7 718.1h0M1011.5 680.3h0M960.1 727.4h0M951.5 769.0h0M1006.7 637.4h0M950.9 749.5h0M937.2 738.9h0M1008.8 636.6h0M995.4 646.2h0M961.4 662.8h0M1017.3 693.7h0M997.1 762.3h0M1014.0 745.2h0M946.4 687.0h0M979.6 718.8h0M982.5 749.0h0M975.8 683.6h0M1031.5 669.6h0M952.5 753.7h0M1018.6 697.2h0M973.0 685.7h0M959.6 720.5h0M936.2 737.6h0M1008.9 731.9h0M989.4 765.1h0M1008.8 739.1h0M1000.4 716.9h0M982.6 703.5h0M1016.2 733.4h0M1009.8 669.3h0M965.8 720.5h0M1024.4 673.0h0M924.2 771.0h0M964.6 699.8h0M943.1 752.1h0M1017.2 658.3h0M1013.6 717.8h0M1000.3 623.9h0M949.2 743.8h0M1009.6 674.0h0M982.6 763.7h0M947.0 757.3h0M968.5 777.0h0M970.1 681.7h0M1027.2 704.5h0M1035.5 673.2h0M980.7 750.3h0M971.4 700.5h0M952.8 768.3h0M1039.6 657.6h0M1018.1 728.1h0M988.9 768.7h0M1015.0 661.9h0M1029.0 649.7h0M985.3 721.1h0M951.9 669.4h0M1042.0 658.7h0M965.2 679.9h0M980.7 700.5h0M965.8 760.5h0M970.7 648.6h0M1025.5 652.8h0M1025.4 741.2h0M982.6 768.6h0M997.5 723.8h0M961.4 687.4h0M995.2 651.3h0M900.1 695.6h0M909.2 707.3h0M901.4 702.6h0M899.9 707.6h0M902.6 712.3h0M901.0 706.5h0M907.5 699.9h0M897.5 695.8h0M908.1 709.2h0M913.2 712.1h0M914.3 709.5h0M898.3 695.9h0M904.1 713.7h0M902.7 699.6h0M907.5 710.2h0M912.2 710.1h0M907.1 709.5h0M900.3 693.4h0M901.7 711.3h0M903.4 713.6h0M908.4 709.4h0M905.3 705.8h0M911.5 714.4h0M905.3 705.8h0M908.2 706.9h0M903.5 708.0h0M925.9 654.3h0M925.9 704.1h0M922.0 723.8h0M911.5 729.0h0M910.6 739.5h0M915.9 748.2h0M915.0 757.0h0M922.0 744.8h0M932.5 718.5h0M1055.0 698.4h0M1055.0 716.8h0M1061.1 673.9h0M1053.2 680.0h0M1043.6 722.0h0M1044.5 711.5h0M1034.0 754.4h0M1009.1 774.5h0M961.4 780.6h0M969.2 636.2h0M969.2 639.8h0M931.6 680.0h0M936.0 678.2h0M386.9 790.0h0M366.8 751.4h0M376.8 767.6h0M365.9 732.3h0M387.5 736.4h0M322.1 764.7h0M353.6 747.8h0M331.2 780.1h0M367.2 748.4h0M334.5 725.4h0M353.0 785.7h0M380.9 751.3h0M342.9 799.7h0M384.4 749.0h0M317.8 771.9h0M370.6 766.7h0M345.3 758.8h0M354.5 739.1h0M381.9 765.9h0M361.4 748.5h0M370.4 793.3h0M309.4 782.3h0M333.1 756.6h0M389.0 785.1h0M341.8 729.6h0M352.8 782.8h0M356.7 735.2h0M371.7 796.4h0M338.5 790.4h0M371.4 737.8h0M305.1 791.8h0M351.3 783.6h0M341.2 726.4h0M348.3 739.5h0M317.5 793.1h0M351.0 801.2h0M355.4 796.1h0M332.4 785.9h0M369.4 792.8h0M368.4 747.3h0M323.2 788.7h0M369.5 737.8h0M373.9 770.6h0M351.3 776.0h0M334.3 733.0h0M325.6 757.6h0M382.5 794.6h0M361.3 748.0h0M366.7 746.7h0M324.7 746.7h0M315.5 767.5h0M377.4 734.8h0M376.5 804.1h0M329.9 751.3h0M391.7 758.4h0M392.2 780.1h0M351.6 750.8h0M341.6 774.1h0M343.3 782.0h0M348.7 771.9h0M379.7 747.5h0M366.7 780.7h0M376.7 753.8h0M388.5 768.8h0M351.4 770.1h0M347.0 725.2h0M398.1 786.9h0M370.9 767.6h0M341.9 764.7h0M381.7 758.8h0M361.1 761.2h0M358.8 792.1h0M384.4 735.8h0M337.4 783.5h0M363.1 804.5h0M390.0 796.1h0M356.7 730.1h0M350.3 735.8h0M307.6 791.1h0M379.0 751.6h0M364.2 784.4h0M343.5 723.3h0M350.1 774.8h0M375.3 755.6h0M361.6 758.0h0M374.5 748.0h0M340.4 755.0h0M381.4 794.2h0M334.0 747.4h0M364.3 732.1h0M356.5 780.0h0M346.0 769.8h0M340.4 756.4h0M318.3 769.1h0M355.2 736.2h0M341.2 753.4h0M334.1 750.9h0M383.5 758.1h0M347.4 779.8h0M356.7 745.0h0M377.1 732.7h0M338.7 782.4h0M303.9 792.5h0M333.2 779.5h0M330.2 805.1h0M391.9 753.7h0M370.4 748.3h0M326.4 796.2h0M369.4 790.5h0M328.0 758.8h0M313.7 796.5h0M353.1 798.1h0M316.5 782.1h0M339.3 745.9h0M324.4 752.2h0M337.4 787.3h0M380.0 779.6h0M373.0 736.4h0M349.2 775.0h0M394.3 763.6h0M329.2 790.1h0M322.6 752.4h0M387.3 783.9h0M384.7 759.3h0M398.7 781.8h0M328.7 740.4h0M329.2 784.7h0M353.0 756.1h0M382.6 747.0h0M339.6 793.7h0M365.9 730.7h0M356.7 752.2h0M376.7 738.3h0M355.2 783.2h0M321.6 743.6h0M381.8 735.1h0M371.0 763.5h0M330.5 772.6h0M319.4 795.0h0M337.5 791.9h0M395.0 776.4h0M371.9 758.4h0M371.5 732.5h0M340.1 773.8h0M346.4 757.9h0M303.8 799.0h0M348.2 737.4h0M365.2 736.0h0M311.9 790.9h0M356.9 803.6h0M361.9 802.7h0M385.9 805.8h0M326.2 801.3h0M384.4 763.9h0M380.2 732.3h0M370.2 784.6h0M387.2 804.9h0M302.2 802.2h0M385.1 737.5h0M344.8 740.4h0M374.5 783.8h0M327.0 747.9h0M329.7 806.5h0M354.0 760.4h0M368.2 737.9h0M304.1 801.4h0M395.5 791.6h0M313.5 800.5h0M345.8 787.6h0M339.9 763.7h0M400.9 781.4h0M338.4 797.1h0M319.0 793.2h0M351.9 803.3h0M349.1 734.2h0M345.5 770.3h0M374.1 806.1h0M390.0 806.4h0M332.0 740.2h0M344.3 806.6h0M329.0 786.0h0M311.4 788.9h0M320.9 789.7h0M349.6 806.5h0M374.9 791.6h0M374.5 778.5h0M333.3 765.0h0M371.3 740.9h0M364.2 774.9h0M343.7 793.6h0M371.4 752.5h0M336.6 743.2h0M321.9 752.8h0M320.8 755.4h0M339.9 772.7h0M382.3 745.9h0M379.3 762.3h0M342.0 743.6h0M357.7 728.3h0M358.7 777.1h0M385.9 740.4h0M371.3 757.0h0M369.4 771.7h0M364.8 743.0h0M322.9 805.7h0M321.9 766.1h0M399.8 781.4h0M311.9 778.2h0M391.0 740.6h0M382.1 756.1h0M333.1 757.5h0M332.1 788.9h0M377.9 762.3h0M346.5 755.2h0M388.9 776.6h0M343.7 775.6h0M326.9 757.1h0M346.3 803.1h0M367.3 771.9h0M334.7 792.7h0M349.8 780.6h0M353.9 739.8h0M389.0 765.1h0M352.0 732.3h0M377.8 786.4h0M367.5 752.1h0M323.5 791.9h0M334.4 728.9h0M331.6 743.5h0M316.6 769.3h0M376.5 732.2h0M332.5 791.6h0M342.5 757.7h0M352.9 769.3h0M339.0 794.4h0M341.7 749.0h0M321.9 786.4h0M339.4 763.7h0M380.8 782.3h0M370.4 764.8h0M371.2 745.0h0M393.5 789.0h0M398.5 798.9h0M376.2 752.0h0M370.9 751.8h0M380.0 740.1h0M396.1 770.4h0M340.7 744.1h0M348.7 771.1h0M341.6 720.6h0M352.0 750.2h0M333.7 749.1h0M313.2 790.0h0M358.0 749.5h0M359.0 763.5h0M325.0 739.5h0M334.8 788.5h0M373.4 778.3h0M337.6 790.0h0M346.8 738.5h0M316.9 785.1h0M367.9 792.9h0M321.7 801.7h0M348.6 750.6h0M395.2 797.7h0M361.9 778.5h0M363.1 736.2h0M378.9 778.4h0M337.6 801.6h0M364.1 743.9h0M344.0 743.0h0M368.6 795.6h0M377.9 754.9h0M372.2 746.7h0M350.3 803.3h0M342.1 723.0h0M389.4 752.4h0M316.1 802.8h0M377.1 775.6h0M388.9 749.5h0M356.5 756.8h0M319.9 800.9h0M373.9 781.5h0M381.4 771.5h0M327.0 759.8h0M335.7 785.1h0M366.5 773.8h0M330.2 787.0h0M387.1 769.2h0M313.3 801.9h0M328.1 786.6h0M311.8 780.0h0M362.8 791.4h0M335.7 726.8h0M338.0 797.6h0M316.6 785.3h0M360.9 805.2h0M334.9 738.7h0M312.3 774.6h0M317.6 763.6h0M336.7 748.0h0M347.3 781.3h0M336.3 771.0h0M391.4 779.0h0M398.2 794.1h0M335.5 764.5h0M392.1 752.6h0M321.4 755.8h0M328.5 789.2h0M389.8 780.3h0M385.9 764.9h0M367.9 779.4h0M374.7 802.8h0M376.5 736.7h0M316.4 785.0h0M330.0 790.3h0M365.0 796.6h0M359.2 762.6h0M338.3 766.3h0M384.6 764.5h0M344.5 786.1h0M351.7 774.7h0M359.5 767.7h0M318.5 755.2h0M378.4 741.4h0M324.1 798.4h0M377.1 733.3h0M361.0 736.2h0M339.9 731.6h0M342.2 732.6h0M354.9 797.4h0M343.3 738.6h0M365.9 737.9h0M374.2 770.3h0M332.9 769.3h0M377.7 772.0h0M344.3 775.3h0M355.3 776.3h0M348.3 795.3h0M390.1 753.9h0M307.9 799.4h0M373.9 774.6h0M356.5 726.3h0M313.3 769.7h0M338.5 751.9h0M369.5 793.4h0M385.9 768.1h0M363.1 783.1h0M322.3 785.0h0M331.8 804.9h0M370.4 746.0h0M317.1 785.1h0M374.0 768.3h0M393.7 750.1h0M346.0 759.1h0M380.3 795.1h0M344.1 806.4h0M370.1 784.5h0M343.1 739.2h0M373.6 784.9h0M363.4 747.0h0M352.5 778.6h0M324.1 767.4h0M337.4 764.6h0M348.4 742.8h0M343.9 736.5h0M348.6 730.3h0M373.3 796.9h0M348.2 764.9h0M325.1 798.5h0M350.2 806.4h0M367.1 789.8h0M311.3 788.8h0M331.1 796.2h0M374.6 752.2h0M325.3 793.7h0M328.6 753.2h0M336.6 804.3h0M307.0 803.7h0M378.1 789.5h0M356.3 767.6h0M351.0 789.3h0M319.6 798.4h0M326.0 797.5h0M373.2 785.9h0M334.6 737.8h0M375.3 759.6h0M382.7 741.7h0M333.0 776.1h0M351.0 779.8h0M376.7 788.0h0M354.7 722.8h0M351.9 789.9h0M339.2 777.4h0M326.4 738.0h0M376.5 795.5h0M394.8 788.3h0M375.3 764.5h0M350.3 788.6h0M368.9 750.1h0M351.0 802.1h0M358.3 749.5h0M372.7 731.8h0M382.9 751.4h0M326.6 754.8h0M334.7 775.4h0M394.2 803.3h0M340.0 761.9h0M314.4 804.2h0M337.6 803.1h0M325.1 749.9h0M328.1 738.6h0M345.6 743.6h0M387.5 745.6h0M343.4 751.2h0M370.4 781.3h0M358.6 739.9h0M337.7 756.6h0M376.7 806.2h0M363.7 797.2h0M302.5 841.9h0M341.3 823.1h0M358.3 831.1h0M319.9 838.8h0M352.8 836.1h0M339.1 837.1h0M298.4 813.8h0M384.0 849.5h0M345.6 819.8h0M295.5 825.4h0M340.6 859.3h0M312.0 812.8h0M328.8 810.7h0M339.7 850.6h0M355.9 820.5h0M397.6 811.8h0M351.0 848.8h0M309.6 822.4h0M309.2 825.5h0M393.1 859.0h0M365.7 839.2h0M383.6 848.7h0M356.0 812.2h0M351.1 837.1h0M327.4 843.0h0M388.2 858.8h0M325.6 860.6h0M332.4 832.7h0M369.0 827.5h0M333.5 840.3h0M301.3 811.2h0M301.9 818.7h0M320.7 833.8h0M383.9 865.8h0M300.9 808.4h0M393.2 862.0h0M379.1 808.8h0M295.7 842.2h0M377.6 814.8h0M349.8 853.2h0M326.4 820.6h0M365.9 842.4h0M326.3 836.4h0M387.4 850.5h0M360.7 845.5h0M402.9 816.2h0M328.4 828.5h0M358.9 817.7h0M379.4 842.6h0M358.4 841.2h0M357.6 855.3h0M337.0 839.7h0M363.8 829.0h0M311.2 837.2h0M339.0 809.3h0M383.3 836.0h0M391.7 811.2h0M333.6 808.1h0M393.2 827.4h0M345.5 848.1h0M389.4 871.4h0M336.3 833.3h0M334.8 818.1h0M315.6 850.2h0M315.6 844.1h0M353.2 811.1h0M361.5 815.0h0M309.9 818.5h0M367.0 826.5h0M378.3 852.2h0M353.0 862.7h0M322.3 836.1h0M392.0 823.4h0M345.0 822.8h0M341.6 857.1h0M323.0 837.5h0M300.7 846.2h0M371.6 867.6h0M349.7 842.9h0M333.4 834.2h0M336.0 837.2h0M318.5 831.0h0M362.1 851.1h0M393.6 819.9h0M350.5 817.1h0M319.3 820.6h0M358.5 831.2h0M375.7 808.0h0M319.2 844.3h0M315.2 805.6h0M298.9 824.4h0M366.0 843.5h0M376.7 855.6h0M401.0 813.1h0M394.4 833.9h0M355.9 837.7h0M335.1 814.1h0M393.0 813.8h0M402.5 828.6h0M402.1 835.6h0M364.2 858.3h0M320.4 848.9h0M321.7 810.3h0M406.2 823.4h0M372.0 816.0h0M340.1 837.0h0M351.3 817.5h0M394.2 816.3h0M391.1 867.6h0M299.0 818.7h0M344.0 844.7h0M401.3 811.4h0M346.8 813.9h0M323.3 808.1h0M334.6 862.0h0M288.4 834.4h0M341.0 828.5h0M348.5 867.9h0M308.4 835.1h0M390.8 852.3h0M380.7 832.2h0M377.3 824.1h0M368.8 857.4h0M365.8 855.7h0M362.4 818.0h0M367.8 813.7h0M401.9 818.5h0M376.4 813.2h0M372.1 863.5h0M334.0 825.1h0M326.9 825.4h0M339.3 834.2h0M298.7 820.0h0M394.3 823.4h0M365.9 853.1h0M336.8 819.6h0M366.7 817.9h0M380.4 860.9h0M330.5 863.3h0M356.5 820.1h0M350.9 807.9h0M363.1 856.3h0M363.6 830.6h0M343.1 858.5h0M377.0 809.6h0M361.9 837.1h0M372.9 851.4h0M372.4 845.7h0M363.4 822.5h0M371.6 813.2h0M333.7 861.5h0M368.3 863.8h0M300.7 847.6h0M336.6 810.8h0M365.5 847.5h0M342.8 862.7h0M380.3 808.5h0M361.5 814.3h0M390.4 820.8h0M403.6 830.0h0M352.3 851.2h0M382.0 862.3h0M356.1 824.3h0M337.1 840.7h0M380.9 846.7h0M315.6 834.2h0M369.4 820.3h0M299.5 814.8h0M326.0 813.0h0M297.3 836.9h0M336.7 845.4h0M400.6 827.6h0M332.3 830.0h0M297.1 850.8h0M317.1 815.3h0M399.0 835.6h0M387.3 827.5h0M317.7 850.7h0M389.5 830.5h0M392.1 860.5h0M355.1 854.8h0M338.3 846.1h0M350.1 817.0h0M328.5 843.7h0M340.0 860.2h0M297.3 821.6h0M337.9 851.2h0M382.6 871.6h0M297.6 839.0h0M387.6 867.4h0M371.3 848.7h0M396.0 809.0h0M320.9 850.5h0M314.7 857.4h0M376.4 862.4h0M326.1 859.5h0M306.3 812.5h0M304.4 829.0h0M324.9 839.5h0M338.8 833.9h0M304.0 812.4h0M335.6 815.4h0M360.7 840.5h0M394.8 806.7h0M389.9 855.2h0M331.2 852.9h0M398.0 823.7h0M376.5 873.8h0M390.7 808.6h0M392.1 821.3h0M341.8 856.8h0M372.3 833.4h0M369.5 851.3h0M378.0 817.2h0M358.5 836.4h0M358.7 825.2h0M392.7 831.1h0M398.9 819.2h0M381.4 853.3h0M329.1 810.8h0M316.2 855.1h0M307.9 856.8h0M399.4 841.4h0M371.2 870.9h0M389.5 839.6h0M382.4 863.1h0M387.1 867.6h0M320.9 824.8h0M342.1 814.1h0M342.7 851.2h0M317.4 823.0h0M336.0 817.9h0M373.1 821.8h0M329.0 849.9h0M331.1 842.6h0M313.4 831.9h0M364.9 841.9h0M385.6 807.8h0M300.1 827.6h0M357.6 836.8h0M336.2 844.8h0M298.9 819.4h0M294.3 839.5h0M326.5 828.4h0M389.1 847.0h0M322.8 820.9h0M370.2 822.6h0M396.3 817.4h0M352.0 853.2h0M361.0 838.4h0M380.3 809.2h0M378.0 841.3h0M399.1 806.9h0M317.4 859.5h0M360.7 823.0h0M302.7 833.0h0M310.4 826.6h0M379.5 843.1h0M380.4 850.5h0M330.9 838.5h0M322.0 826.1h0M354.0 828.6h0M375.3 869.4h0M396.4 825.4h0M331.6 812.8h0M304.5 819.2h0M300.0 809.8h0M370.7 832.5h0M387.8 837.2h0M373.4 859.2h0M321.5 843.9h0M338.2 838.2h0M349.6 815.0h0M393.8 810.3h0M338.7 812.4h0M334.1 839.2h0M386.2 813.9h0M337.3 848.6h0M325.2 851.2h0M291.8 844.8h0M394.1 824.9h0M337.9 856.8h0M335.6 826.7h0M298.0 848.8h0M373.2 831.5h0M387.1 809.7h0M317.6 824.0h0M324.2 827.0h0M330.8 860.3h0M351.2 852.1h0M371.8 819.4h0M337.6 853.0h0M401.1 837.4h0M376.7 816.9h0M303.1 819.3h0M315.6 846.1h0M303.1 852.8h0M300.4 850.9h0M387.0 810.6h0M318.0 814.4h0M301.7 847.7h0M398.1 833.8h0M312.7 827.5h0M299.4 812.2h0M363.0 852.4h0M293.6 829.6h0M333.0 858.2h0M326.5 840.9h0M347.8 840.8h0M313.2 824.7h0M311.8 828.2h0M360.1 821.8h0M319.6 852.5h0M390.8 813.4h0M364.1 850.6h0M390.3 855.8h0M368.5 853.4h0M361.8 851.6h0M317.7 822.6h0M390.7 864.5h0M387.6 812.0h0M309.5 826.0h0M379.5 816.1h0M355.5 818.9h0M313.5 813.2h0M328.4 859.1h0M336.0 853.4h0M376.9 835.2h0M337.6 837.0h0M365.6 841.3h0M313.3 824.9h0M308.7 831.6h0M332.5 823.8h0M336.0 810.0h0M319.5 853.6h0M335.5 840.1h0M345.5 858.6h0M330.8 821.7h0M302.1 845.7h0M379.7 814.8h0M334.4 862.2h0M362.5 838.5h0M342.1 820.0h0M343.9 835.3h0M381.0 828.9h0M361.5 848.2h0M358.9 829.7h0M341.9 843.3h0M305.2 853.6h0M347.6 829.1h0M345.0 842.4h0M320.2 833.0h0M312.9 833.8h0M363.8 821.1h0M317.6 834.6h0M341.1 839.8h0M341.0 857.3h0M307.2 829.0h0M368.3 812.2h0M324.6 840.8h0M320.0 831.8h0M372.8 811.0h0M365.0 854.5h0M393.0 853.3h0M349.0 820.9h0M381.0 868.3h0M366.5 858.7h0M378.7 838.0h0M313.6 858.6h0M340.5 822.3h0M340.4 817.5h0M341.1 844.1h0M308.7 825.6h0M344.7 811.7h0M296.3 843.0h0M309.6 831.8h0M356.5 863.1h0M372.4 831.7h0M377.0 825.6h0M381.6 824.2h0M396.9 818.7h0M395.0 812.9h0M300.3 839.0h0M308.2 836.4h0M378.2 838.2h0M316.1 853.8h0M354.6 811.8h0M336.4 824.5h0M398.4 833.3h0M381.7 817.2h0M305.7 852.4h0M369.8 852.8h0M299.0 809.4h0M324.4 815.1h0M379.9 870.0h0M402.2 830.3h0M339.6 824.4h0M326.0 828.1h0M354.4 817.9h0M373.0 862.9h0M295.3 846.8h0M299.2 835.1h0M336.7 832.7h0M362.5 826.9h0M331.8 814.9h0M387.1 812.6h0M322.7 852.4h0M304.0 826.7h0M393.4 862.0h0M370.0 827.8h0M329.7 829.3h0M384.9 820.5h0M347.5 865.1h0M364.4 824.7h0M368.3 853.3h0M363.7 835.6h0M330.9 826.5h0M388.7 858.9h0M362.1 831.8h0M373.2 824.0h0M384.2 868.7h0M387.4 814.8h0M350.7 862.0h0M305.1 842.8h0M317.5 845.3h0M400.4 839.3h0M367.8 855.9h0M368.6 861.4h0M335.6 832.6h0M320.3 824.4h0M334.9 818.2h0M291.1 832.3h0M377.9 849.3h0M302.7 825.4h0M399.9 832.7h0M368.3 857.8h0M340.4 809.4h0M389.1 834.0h0M338.0 833.2h0M329.3 808.9h0M340.5 851.8h0M385.1 831.2h0M390.3 834.9h0M336.1 861.1h0M391.4 851.9h0M391.1 818.2h0M345.1 854.9h0M386.3 826.4h0M363.3 869.8h0M306.3 854.6h0M332.3 827.9h0M353.8 807.6h0M369.4 869.4h0M353.7 823.8h0M327.4 811.8h0M369.8 871.6h0M331.3 815.1h0M362.1 824.7h0M359.5 722.5h0M365.3 729.8h0M367.5 738.5h0M377.0 729.1h0M376.2 740.0h0M381.4 737.8h0M389.4 735.6h0M370.4 745.8h0M373.3 748.8h0M377.7 747.3h0M382.1 750.2h0M377.7 756.0h0M382.8 757.5h0M399.3 765.2h0M408.3 861.0h0M414.9 853.8h0M413.4 813.6h0M412.7 811.5h0M415.9 825.2h0M417.2 823.6h0M432.0 850.6h0M468.6 861.7h0M438.9 864.6h0M457.3 849.6h0M499.0 873.9h0M423.0 842.1h0M480.4 873.2h0M404.9 838.8h0M444.8 845.6h0M439.9 869.3h0M451.3 870.0h0M462.3 863.1h0M465.4 863.1h0M448.6 861.1h0M494.2 877.7h0M403.4 840.5h0M447.7 864.3h0M447.6 871.1h0M475.9 869.1h0M436.1 868.5h0M441.5 859.0h0M409.4 844.8h0M422.0 839.9h0M454.9 863.5h0M406.8 834.7h0M440.0 849.8h0M483.3 870.2h0M442.2 858.4h0M448.7 865.7h0M419.9 833.7h0M410.6 840.4h0M484.5 870.2h0M444.8 861.7h0M448.1 859.7h0M410.9 830.9h0M405.3 832.8h0M439.1 843.8h0M422.4 842.0h0M463.1 860.3h0M501.4 882.1h0M412.3 839.4h0M401.9 845.5h0M455.7 855.4h0M408.7 842.3h0M434.4 868.0h0M444.5 847.7h0M434.7 863.6h0M501.8 879.1h0M500.2 874.6h0M435.9 853.5h0M441.9 838.3h0M429.9 843.2h0M492.2 878.5h0M426.4 843.0h0M448.7 853.3h0M451.9 864.0h0M458.5 850.9h0M443.9 860.6h0M440.0 843.0h0M461.9 854.1h0M507.2 874.9h0M461.3 858.1h0M439.2 840.7h0M443.5 868.5h0M436.0 855.3h0M495.9 873.5h0M402.6 838.1h0M406.4 838.1h0M420.3 824.5h0M417.0 827.8h0M506.4 882.0h0M428.0 846.0h0M512.6 876.0h0M454.1 854.7h0M406.2 844.8h0M449.4 859.4h0M441.9 851.8h0M417.7 826.9h0M438.0 868.9h0M489.7 877.3h0M476.5 868.1h0M437.7 860.0h0M441.5 845.0h0M450.1 841.6h0M413.3 834.2h0M498.9 876.4h0M434.6 843.6h0M453.7 851.9h0M436.1 838.8h0M486.9 873.8h0M440.8 844.1h0M453.6 850.0h0M425.3 840.0h0M402.9 842.5h0M500.9 876.6h0M417.7 840.4h0M499.5 882.6h0M439.0 844.1h0M499.5 880.6h0M503.8 882.7h0M436.4 857.9h0M420.6 841.0h0M494.3 871.1h0M449.9 855.4h0M417.5 828.9h0M459.5 854.9h0M415.0 829.9h0M465.8 859.4h0M461.2 852.1h0M448.6 841.6h0M424.1 838.4h0M451.0 851.8h0M442.5 847.5h0M495.6 879.3h0M424.6 836.9h0M431.4 837.2h0M489.1 871.5h0M447.3 850.4h0M507.8 878.5h0M453.3 865.5h0M467.7 866.7h0M457.7 864.0h0M497.5 878.9h0M420.6 835.8h0M467.1 860.3h0M408.4 843.9h0M418.4 838.3h0M446.1 868.8h0M407.0 831.6h0M412.8 827.4h0M405.2 834.9h0M434.6 866.8h0M452.6 860.6h0M442.4 864.8h0M432.7 857.3h0M459.0 857.4h0M446.4 858.4h0M489.5 871.2h0M412.8 813.7h0M429.8 820.9h0M435.9 832.1h0M454.2 840.9h0M467.1 849.8h0M473.7 853.6h0M476.1 861.5h0M491.0 866.8h0M498.6 887.8h0M414.9 853.7h0M408.8 861.0h0M421.4 860.3h0M426.2 855.1h0M440.2 847.5h0M598.8 679.6h0M614.9 648.1h0M598.8 686.3h0M645.0 693.8h0M617.3 704.0h0M602.6 683.6h0M650.7 683.6h0M629.2 698.3h0M623.0 661.0h0M631.5 669.0h0M628.1 657.6h0M646.2 672.3h0M630.0 691.2h0M612.7 648.5h0M639.9 687.9h0M613.1 701.1h0M604.6 651.7h0M626.0 683.2h0M656.7 690.0h0M640.1 683.8h0M642.9 680.4h0M618.5 705.4h0M642.7 679.9h0M640.0 688.7h0M632.3 693.7h0M615.9 700.9h0M624.7 662.3h0M614.9 659.1h0M641.0 690.8h0M607.6 697.7h0M651.9 685.6h0M608.4 669.5h0M620.6 688.4h0M637.3 697.5h0M624.7 684.7h0M657.5 689.4h0M631.7 674.9h0M638.3 671.8h0M613.1 675.2h0M641.8 687.4h0M598.6 683.8h0M621.0 668.7h0M600.4 679.7h0M607.7 680.1h0M625.3 688.2h0M619.8 663.9h0M613.6 660.0h0M608.8 656.2h0M627.4 659.7h0M634.7 665.9h0M633.3 683.4h0M638.5 666.4h0M614.5 650.6h0M630.8 690.7h0M619.2 656.2h0M607.8 650.8h0M609.9 657.1h0M616.8 670.4h0M647.3 674.9h0M653.1 694.7h0M648.1 682.0h0M599.3 667.4h0M602.3 687.4h0M598.9 658.4h0M635.9 675.0h0M648.2 691.1h0M621.0 675.5h0M628.8 687.5h0M611.0 704.0h0M655.1 685.8h0M639.1 674.7h0M616.6 682.6h0M633.7 676.6h0M623.4 681.8h0M616.0 656.1h0M611.4 706.6h0M613.3 680.7h0M640.3 684.6h0M634.5 674.0h0M653.6 683.2h0M620.1 665.7h0M647.5 674.7h0M627.2 664.0h0M635.8 691.4h0M616.4 697.8h0M620.2 678.7h0M617.9 697.7h0M614.5 680.0h0M627.5 664.6h0M629.5 701.0h0M616.9 667.1h0M608.6 671.9h0M598.8 671.3h0M627.6 687.5h0M616.8 666.5h0M626.9 695.3h0M610.2 664.9h0M633.3 692.1h0M611.4 697.6h0M651.0 689.1h0M634.4 680.9h0M615.7 662.3h0M616.1 678.1h0M636.8 683.2h0M607.5 669.6h0M640.0 678.5h0M625.9 680.4h0M633.2 691.1h0M621.5 662.4h0M634.7 694.5h0M626.5 663.2h0M618.1 651.8h0M628.1 672.9h0M608.8 656.8h0M602.7 681.2h0M637.7 669.6h0M605.4 674.3h0M602.8 681.2h0M614.7 674.5h0M641.5 693.2h0M624.8 667.1h0M615.2 666.2h0M635.2 700.8h0M610.3 679.5h0M610.9 649.1h0M609.7 655.3h0M612.7 676.4h0M614.7 667.2h0M611.3 675.7h0M622.2 676.8h0M627.3 701.0h0M597.3 676.6h0M603.8 658.6h0M616.1 665.6h0M622.2 699.9h0M619.2 686.2h0M630.4 683.0h0M646.3 682.8h0M625.5 687.5h0M609.1 660.7h0M645.0 681.8h0M613.5 696.5h0M615.0 675.8h0M618.6 680.8h0M604.2 679.7h0M626.2 652.4h0M612.3 709.7h0M622.7 665.9h0M648.3 685.7h0M629.6 683.0h0M633.1 680.7h0M602.0 687.5h0M621.8 682.4h0M612.6 693.3h0M627.1 669.5h0M653.8 693.0h0M630.9 667.3h0M606.0 671.3h0M631.9 702.2h0M626.6 669.2h0M633.6 677.8h0M615.8 692.7h0M606.4 650.3h0M623.6 697.7h0M640.8 680.2h0M616.0 710.4h0M610.4 657.8h0M606.2 675.9h0M597.4 677.2h0M645.3 681.0h0M630.8 667.2h0M629.3 683.0h0M645.7 690.7h0M600.2 677.6h0M625.4 652.2h0M642.7 669.7h0M619.1 690.7h0M605.1 651.1h0M625.8 653.4h0M625.8 695.7h0M639.2 674.0h0M615.3 697.3h0M644.0 674.7h0M618.9 697.9h0M639.0 685.6h0M633.7 674.4h0M622.6 655.9h0M602.4 666.4h0M617.3 693.9h0M615.3 703.9h0M634.1 697.4h0M642.6 689.8h0M607.9 659.1h0M610.4 649.7h0M613.5 657.6h0M616.3 650.4h0M618.7 694.9h0M609.0 645.7h0M651.5 688.0h0M621.2 669.9h0M615.4 700.3h0M630.4 693.5h0M596.4 678.4h0M604.6 685.5h0M625.6 688.7h0M627.3 680.1h0M623.3 693.9h0M603.6 650.0h0M600.4 671.3h0M632.8 665.7h0M613.9 663.4h0M618.1 706.7h0M600.7 660.0h0M630.9 668.5h0M648.3 689.8h0M614.5 655.5h0M608.9 678.4h0M617.5 668.3h0M653.3 709.3h0M659.2 711.7h0M665.0 710.5h0M669.7 707.0h0M667.3 697.7h0M667.3 702.3h0M672.0 705.8h0M675.5 710.5h0M674.3 718.7h0M672.0 723.3h0M675.5 726.8h0M676.7 731.5h0M677.8 735.6h0M660.3 720.4h0M646.3 706.6h0M631.8 710.5h0M634.1 658.0h0M648.7 658.6h0M669.7 711.7h0M673.2 714.0h0M667.3 715.2h0M674.9 723.3h0M599.7 711.7h0M600.8 716.9h0M595.0 718.7h0M593.2 724.5h0M590.9 729.2h0M588.0 733.8h0M585.7 737.3h0M583.3 742.0h0M581.0 749.0h0M592.1 726.8h0M589.2 731.5h0M586.8 735.6h0M584.5 739.7h0M598.5 714.0h0M564.7 764.2h0M578.1 765.9h0M562.3 765.3h0M553.8 769.6h0M548.1 776.2h0M547.7 770.3h0M560.4 778.0h0M555.0 766.9h0M549.7 773.9h0M558.9 764.7h0M552.7 772.1h0M568.6 772.7h0M568.4 768.9h0M558.6 782.0h0M552.0 772.7h0M553.4 776.8h0M552.2 779.7h0M567.3 770.0h0M548.7 772.4h0M567.0 768.5h0M565.5 774.5h0M543.2 766.6h0M570.4 775.4h0M549.1 777.4h0M554.3 773.4h0M549.0 778.6h0M568.1 773.5h0M559.6 779.2h0M562.1 774.3h0M554.8 774.7h0M545.2 773.6h0M546.8 775.3h0M562.8 778.3h0M545.4 770.0h0M553.6 775.2h0M552.0 774.4h0M570.7 772.2h0M552.5 772.9h0M569.9 775.2h0M555.1 781.8h0M555.7 779.0h0M574.3 774.8h0M567.6 771.0h0M560.3 767.0h0M562.6 770.0h0M558.6 767.2h0M556.7 770.2h0M568.0 777.8h0M553.7 776.9h0M548.3 766.6h0M548.4 766.6h0M556.6 764.8h0M557.2 765.5h0M554.3 778.6h0M561.8 778.4h0M544.9 769.5h0M561.8 767.5h0M559.6 779.2h0M552.0 793.0h0M551.2 791.2h0M578.2 765.8h0M595.0 776.2h0M605.0 778.0h0M610.0 785.0h0M610.5 788.8h0M580.8 749.5h0M583.8 743.8h0M587.5 740.0h0M748.8 790.0h0M751.2 789.5h0M753.2 793.0h0M748.0 796.2h0M750.0 793.8h0M796.2 786.2h0M800.0 782.5h0M805.0 778.8h0M808.8 777.5h0M807.5 783.8h0M810.0 788.8h0M807.0 793.8h0M802.5 787.5h0M798.8 786.2h0M805.0 790.0h0M736.2 853.8h0M711.4 857.5h0M710.9 839.2h0M709.8 854.1h0M725.8 851.8h0M725.9 843.1h0M724.8 843.2h0M724.4 840.2h0M702.6 854.0h0M719.5 824.4h0M710.8 856.5h0M714.7 856.2h0M720.3 846.9h0M712.7 844.5h0M704.4 853.6h0M720.4 838.9h0M719.8 835.6h0M714.4 852.7h0M718.8 847.0h0M714.7 857.3h0M722.0 858.2h0M701.3 852.3h0M720.9 845.9h0M711.2 838.9h0M726.6 849.7h0M722.5 827.0h0M720.0 843.5h0M718.2 848.6h0M739.1 846.1h0M711.4 844.5h0M701.0 845.3h0M722.4 842.2h0M740.3 845.2h0M716.2 858.5h0M701.7 846.2h0M707.6 844.5h0M708.5 849.9h0M730.7 857.3h0M718.4 849.3h0M719.6 825.7h0M723.6 829.1h0M714.1 856.6h0M724.7 824.4h0M726.7 828.0h0M727.6 842.0h0M715.4 830.2h0M724.2 830.3h0M719.6 828.7h0M712.0 837.0h0M717.0 827.4h0M717.5 850.1h0M722.8 852.6h0M711.0 857.0h0M720.7 825.4h0M723.1 824.3h0M725.5 828.5h0M703.5 841.8h0M723.7 841.4h0M701.8 846.7h0M714.9 845.8h0M714.9 858.7h0M723.5 830.4h0M697.4 852.8h0M731.3 854.7h0M721.4 830.2h0M719.7 849.5h0M738.7 852.1h0M722.8 839.8h0M714.2 837.0h0M725.2 840.1h0M719.5 831.7h0M721.5 856.6h0M725.5 827.0h0M720.7 826.6h0M716.6 846.1h0M703.9 845.0h0M721.4 841.6h0M710.6 845.6h0M711.7 834.1h0M713.3 842.5h0M706.2 839.9h0M711.1 834.9h0M721.8 836.9h0M714.3 855.0h0M729.1 849.2h0M726.4 849.9h0M707.6 854.3h0M709.3 852.5h0M711.4 848.6h0M711.1 850.1h0M709.1 847.0h0M728.9 848.2h0M714.3 851.2h0M721.9 842.3h0M702.3 842.5h0M711.8 854.8h0M708.0 858.3h0M714.8 835.9h0M731.9 851.3h0M719.6 823.7h0M713.8 853.1h0M700.6 846.8h0M713.1 856.5h0M705.0 844.2h0M728.6 855.3h0M705.7 850.3h0M729.7 854.2h0M729.7 852.1h0M716.1 854.6h0M706.4 847.4h0M734.5 813.2h0M733.0 820.0h0M705.8 832.5h0M739.5 851.2h0M743.8 841.2h0M608.6 843.0h0M611.6 841.0h0M610.0 848.0h0M607.0 846.0h0M613.4 858.0h0M657.0 981.0h0M659.0 983.0h0M509.3 917.3h0M508.8 922.7h0M437.3 1044.0h0M440.0 1042.7h0M656.8 981.3h0M660.0 984.0h0M518.4 969.6h0M519.8 977.2h0M522.8 979.5h0M523.3 984.5h0M520.4 986.5h0M522.8 992.4h0M530.3 991.5h0M533.8 991.2h0M535.0 993.8h0M529.2 997.9h0M533.2 1000.8h0M531.5 1006.7h0M528.0 1010.2h0M522.5 1003.8h0M523.9 1011.3h0M520.4 1013.1h0M516.3 1016.0h0M515.2 1020.7h0M517.5 1018.3h0M530.3 1014.8h0M527.4 1013.7h0M525.7 1017.2h0M530.3 1004.3h0M533.8 997.3h0M617.3 875.3h0M620.7 874.0h0M622.0 878.7h0M624.0 881.3h0M626.0 883.3h0M623.3 884.7h0M627.3 885.3h0M627.3 888.7h0M629.3 891.3h0M632.0 893.3h0M634.0 896.0h0M633.3 898.7h0M636.0 902.7h0M628.7 903.6h0M637.3 908.0h0M633.3 911.3h0M638.0 914.0h0M636.0 917.3h0M633.3 920.0h0M630.0 921.3h0M625.3 920.7h0M627.3 925.3h0M633.3 925.3h0M631.3 922.7h0M635.3 914.7h0M650.0 914.7h0M652.0 912.0h0M656.0 916.0h0M652.7 916.0h0M665.3 918.7h0M667.3 920.7h0M681.3 925.3h0M699.3 932.7h0M702.7 935.3h0M706.7 934.0h0M712.0 935.3h0M710.7 940.0h0M716.0 937.3h0M721.3 936.7h0M725.3 939.3h0M720.0 941.3h0M713.3 945.3h0M715.3 949.3h0M719.3 944.7h0M709.3 941.3h0M714.0 941.3h0M437.0 1044.7h0M438.7 1043.0h0M441.7 1041.0h0M726.7 719.2h0M732.5 718.8h0M730.0 719.6h0M666.7 696.2h0M667.5 699.2h0M668.3 703.8h0M672.5 706.7h0M675.0 710.8h0M671.7 711.7h0M669.2 713.3h0M665.0 710.8h0M661.7 712.5h0M657.9 712.1h0M654.6 709.6h0M670.0 716.7h0M675.8 719.6h0M672.5 723.3h0M676.7 725.8h0M673.3 728.3h0M677.5 731.7h0M678.3 735.0h0M659.2 700.0h0M656.7 695.0h0M648.3 696.7h0M648.3 692.1h0M660.0 720.8h0M646.2 706.7h0M641.7 695.0h0M657.9 686.2h0M650.8 684.2h0M526.2 1012.7h0M535.2 993.3h0M523.8 1008.5h0M529.7 999.4h0M532.6 1003.8h0M533.6 1004.9h0M529.8 1012.0h0M529.4 1008.3h0M529.0 1003.9h0M529.5 1002.6h0M533.5 992.2h0M532.0 1007.0h0M534.0 997.2h0M530.2 998.9h0M528.3 1014.0h0M529.9 1014.8h0M532.6 1009.0h0M525.7 1013.3h0M529.6 1005.2h0M530.9 1008.1h0M535.1 996.6h0M525.7 1015.7h0M534.3 1004.6h0M519.9 1019.4h0M520.7 1019.1h0M522.1 1016.0h0M530.0 1012.7h0M528.9 1006.1h0M533.0 995.8h0M521.0 1015.3h0M523.5 1014.6h0M532.2 994.5h0M524.5 1014.2h0M519.1 1019.5h0M531.1 1007.5h0M529.7 1011.4h0M532.9 1001.1h0M526.2 1015.6h0M531.1 1013.3h0M524.0 1011.2h0M520.4 1013.2h0M532.0 1004.6h0M531.9 1004.4h0M533.0 1006.7h0M522.7 1011.5h0M700.3 932.3h0M708.8 941.4h0M705.2 937.7h0M712.4 937.9h0M719.2 935.7h0M724.4 941.7h0M715.9 945.9h0M709.1 942.4h0M715.1 937.1h0M713.2 947.2h0M725.4 940.0h0M710.8 944.0h0M706.4 936.5h0M714.5 948.4h0M717.6 942.8h0M709.4 941.5h0M716.1 940.2h0M718.2 942.0h0M708.8 941.5h0M716.0 940.9h0M713.5 943.9h0M716.9 945.9h0M709.6 943.1h0M718.9 944.3h0M703.0 935.5h0M717.0 947.0h0M718.2 940.2h0M707.6 939.9h0M705.0 934.4h0M711.9 935.8h0M707.3 940.7h0M712.8 940.8h0M719.6 941.6h0M711.9 943.9h0M713.1 942.6h0M718.0 943.9h0M714.0 937.7h0M721.1 939.6h0M717.3 936.1h0M709.8 938.9h0M617.4 874.6h0M618.9 875.7h0M619.9 877.4h0M621.7 878.3h0M622.4 880.2h0M623.9 881.8h0M625.3 883.6h0M626.6 885.4h0M627.7 887.0h0M629.0 888.5h0M629.4 890.5h0M630.6 892.0h0M631.3 894.1h0M632.7 895.7h0M634.1 897.3h0M634.3 899.2h0M634.9 901.0h0M636.3 902.6h0M636.2 904.5h0M636.7 906.3h0M637.3 908.0h0M637.2 910.2h0M637.1 912.5h0M636.8 914.8h0M635.9 916.5h0M635.2 918.4h0M634.0 920.1h0M631.6 921.2h0M629.2 923.0h0M627.5 921.6h0" stroke="#d3d3d3"/>
<path d="M391.7 393.0h0M390.8 396.8h0M390.0 403.0h0M397.5 407.2h0M402.5 405.5h0M411.7 393.0h0M414.2 393.8h0M415.8 396.8h0M411.2 404.7h0M419.6 403.0h0M425.8 403.0h0M429.2 401.8h0M434.2 403.4h0M439.6 395.1h0M382.5 411.3h0M384.6 416.3h0M390.8 414.7h0M391.7 418.0h0M394.6 420.5h0M397.5 426.3h0M402.9 416.8h0M406.7 422.2h0M405.8 424.7h0M403.3 430.5h0M408.3 436.3h0M419.6 443.8h0M409.2 439.7h0M424.2 418.0h0M443.3 412.2h0M450.0 411.3h0M454.2 412.2h0M460.4 417.2h0M470.8 445.9h0M481.0 349.3h0M493.0 347.7h0M492.0 346.3h0M483.0 355.0h0M485.3 358.3h0M487.0 363.7h0M490.7 363.7h0M484.3 361.7h0M504.0 391.0h0M505.3 394.3h0M509.3 404.0h0M512.5 431.3h0M515.3 438.0h0M519.2 445.0h0M470.8 446.7h0M505.8 450.0h0M506.3 454.2h0M525.8 466.7h0M510.5 471.7h0M523.3 489.5h0M496.7 497.5h0M497.5 520.0h0M500.0 518.3h0M507.2 521.7h0M518.3 521.7h0M520.3 520.8h0M516.2 531.3h0M505.0 534.7h0M571.7 532.5h0M517.3 424.7h0M174.3 539.1h0M194.1 541.1h0M232.3 523.1h0M242.3 532.0h0M249.7 536.3h0M236.3 550.3h0M284.3 530.0h0M391.7 392.3h0M391.0 396.7h0M390.0 403.0h0M401.3 388.7h0M401.7 398.0h0M405.3 397.3h0M413.7 392.7h0M416.0 397.0h0M411.3 404.7h0M418.7 403.3h0M397.7 407.7h0M402.7 406.3h0M383.0 409.3h0M409.0 389.0h0M382.6 411.5h0M384.5 416.5h0M390.9 414.6h0M391.3 417.5h0M394.5 420.8h0M397.2 426.7h0M403.0 416.9h0M406.3 422.5h0M405.5 425.8h0M403.4 430.8h0M407.2 430.4h0M406.3 438.3h0M409.7 440.4h0M413.8 435.8h0M419.7 443.3h0M423.8 417.9h0M390.1 405.4h0M411.3 405.4h0M397.6 407.5h0M402.2 406.7h0M481.0 349.8h0M480.8 352.6h0M482.2 355.2h0M484.0 354.5h0M485.7 353.1h0M482.9 358.7h0M485.0 361.5h0M487.1 364.3h0M490.8 364.3h0M491.7 362.2h0M491.7 345.8h0M494.5 348.4h0M494.1 347.0h0M493.8 352.1h0M612.9 682.1h0M597.3 692.1h0" stroke="#9d77ec"/>
<path d="M398.8 385.9h0M405.8 389.7h0M407.1 390.9h0M394.2 398.8h0M397.9 399.7h0M405.0 401.3h0M400.0 405.5h0M418.3 393.8h0M436.2 397.2h0M452.1 390.5h0M387.1 410.9h0M410.8 420.5h0M406.2 433.8h0M412.5 432.6h0M410.8 438.0h0M415.0 440.1h0M439.2 414.7h0M447.5 413.8h0M490.7 353.0h0M488.0 359.0h0M488.3 361.0h0M502.7 387.3h0M520.3 467.5h0M533.3 487.5h0M490.8 505.8h0M516.3 505.8h0M595.8 550.8h0M398.5 385.5h0M406.0 388.7h0M407.3 391.0h0M404.0 393.3h0M395.7 400.0h0M399.3 400.0h0M405.3 401.3h0M400.0 405.7h0M418.2 393.7h0M387.0 409.3h0M387.4 411.2h0M410.9 420.4h0M406.1 434.0h0M412.6 432.7h0M410.9 437.9h0M415.5 440.0h0M399.7 405.8h0M490.3 353.1h0M486.6 358.7h0M488.5 361.0h0M488.9 358.2h0" stroke="#6b42f7"/>
<path d="M398.3 392.6h0M400.0 395.5h0M492.7 357.3h0M497.0 375.0h0M398.3 392.0h0M400.0 396.0h0M492.9 357.3h0" stroke="#0000ff"/>
</g>
<line x1="95.45" y1="51" x2="95.45" y2="1120.8" stroke="#000" stroke-width="2.9"/>
<line x1="94" y1="1119.4" x2="1118" y2="1119.4" stroke="#000" stroke-width="2.9"/>
<line x1="141.80" y1="1119" x2="141.80" y2="1124.7" stroke="#000" stroke-width="2.9"/>
<text x="141.80" y="1148" font-size="30" text-anchor="middle">-15</text>
<line x1="307.52" y1="1119" x2="307.52" y2="1124.7" stroke="#000" stroke-width="2.9"/>
<text x="307.52" y="1148" font-size="30" text-anchor="middle">-10</text>
<line x1="473.24" y1="1119" x2="473.24" y2="1124.7" stroke="#000" stroke-width="2.9"/>
<text x="473.24" y="1148" font-size="30" text-anchor="middle">-5</text>
<line x1="638.96" y1="1119" x2="638.96" y2="1124.7" stroke="#000" stroke-width="2.9"/>
<text x="638.96" y="1148" font-size="30" text-anchor="middle">0</text>
<line x1="804.68" y1="1119" x2="804.68" y2="1124.7" stroke="#000" stroke-width="2.9"/>
<text x="804.68" y="1148" font-size="30" text-anchor="middle">5</text>
<line x1="970.40" y1="1119" x2="970.40" y2="1124.7" stroke="#000" stroke-width="2.9"/>
<text x="970.40" y="1148" font-size="30" text-anchor="middle">10</text>
<line x1="90.1" y1="277.15" x2="96" y2="277.15" stroke="#000" stroke-width="2.9"/>
<text x="87.5" y="287.95" font-size="30" text-anchor="end">10</text>
<line x1="90.1" y1="571.20" x2="96" y2="571.20" stroke="#000" stroke-width="2.9"/>
<text x="87.5" y="582.00" font-size="30" text-anchor="end">0</text>
<line x1="90.1" y1="865.25" x2="96" y2="865.25" stroke="#000" stroke-width="2.9"/>
<text x="87.5" y="876.05" font-size="30" text-anchor="end">-10</text>
<text x="605" y="36.8" font-size="34" font-weight="bold" text-anchor="middle">Clec9a</text>
<text x="604" y="1181.3" font-size="30" text-anchor="middle">umapNC_1</text>
<text transform="translate(33.3,585.5) rotate(-90)" x="0" y="0" font-size="30" text-anchor="middle">umapNC_2</text>
<defs><linearGradient id="g" x1="0" y1="1" x2="0" y2="0"><stop offset="0.0" stop-color="#d3d3d3"/><stop offset="0.1" stop-color="#cac0d9"/><stop offset="0.2" stop-color="#c1aede"/><stop offset="0.3" stop-color="#b69ce3"/><stop offset="0.4" stop-color="#aa89e7"/><stop offset="0.5" stop-color="#9d77ec"/><stop offset="0.6" stop-color="#8e65f0"/><stop offset="0.7" stop-color="#7c51f4"/><stop offset="0.8" stop-color="#673df8"/><stop offset="0.9" stop-color="#4926fb"/><stop offset="1.0" stop-color="#0000ff"/></linearGradient></defs>
<rect x="1130.2" y="547.9" width="15.2" height="76.4" fill="url(#g)"/>
<line x1="1130.2" y1="569.2" x2="1133.2" y2="569.2" stroke="#fff" stroke-width="1" stroke-opacity="0.75"/>
<line x1="1142.4" y1="569.2" x2="1145.4" y2="569.2" stroke="#fff" stroke-width="1" stroke-opacity="0.75"/>
<line x1="1130.2" y1="596.4" x2="1133.2" y2="596.4" stroke="#fff" stroke-width="1" stroke-opacity="0.75"/>
<line x1="1142.4" y1="596.4" x2="1145.4" y2="596.4" stroke="#fff" stroke-width="1" stroke-opacity="0.75"/>
<line x1="1130.2" y1="623.6" x2="1133.2" y2="623.6" stroke="#fff" stroke-width="1" stroke-opacity="0.75"/>
<line x1="1142.4" y1="623.6" x2="1145.4" y2="623.6" stroke="#fff" stroke-width="1" stroke-opacity="0.75"/>
<text x="1153.8" y="578.5" font-size="25">1.0</text>
<text x="1153.8" y="605.9" font-size="25">0.5</text>
<text x="1153.8" y="633.9" font-size="25">0.0</text>
</svg></body></html>
